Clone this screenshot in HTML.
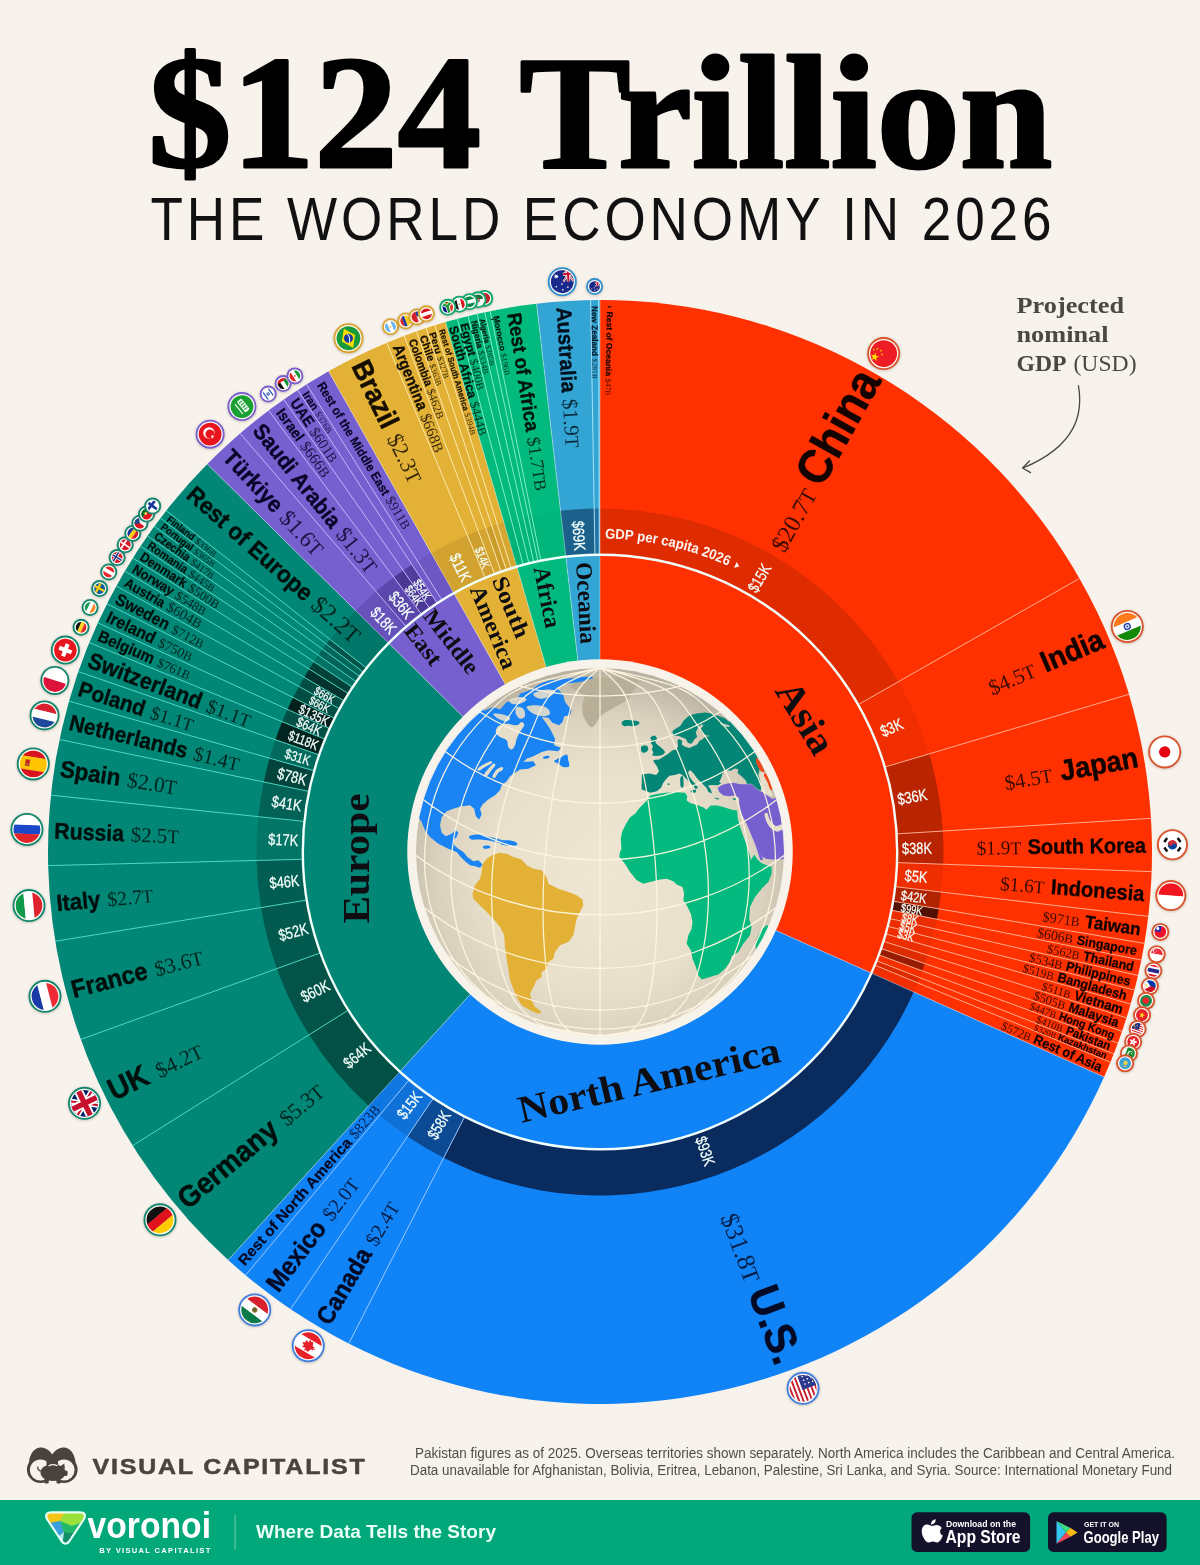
<!DOCTYPE html>
<html lang="en">
<head>
<meta charset="utf-8">
<title>$124 Trillion: The World Economy in 2026</title>
<style>
html,body{margin:0;padding:0;background:#f7f2eb;}
body{width:1200px;height:1565px;overflow:hidden;}
svg{display:block;}
text{white-space:pre;}
</style>
</head>
<body>
<svg width="1200" height="1565" viewBox="0 0 1200 1565">
<rect width="1200" height="1565" fill="#f7f2eb"/>
<text x="600.3" y="166.5" text-anchor="middle" font-family='"Liberation Serif", "Times New Roman", serif' font-weight="700" font-size="160" textLength="904" lengthAdjust="spacingAndGlyphs" fill="#000" stroke="#000" stroke-width="3" stroke-linejoin="round">$124 Trillion</text>
<text x="603" y="240.2" text-anchor="middle" font-family='"Liberation Sans", Arial, Helvetica, sans-serif' font-size="61" letter-spacing="4.5" textLength="905" lengthAdjust="spacingAndGlyphs" fill="#111">THE WORLD ECONOMY IN 2026</text>
<text font-family='"Liberation Serif", "Times New Roman", serif' font-size="24" fill="#4b4741"><tspan x="1016.5" y="313" font-weight="700" textLength="107.5" lengthAdjust="spacingAndGlyphs">Projected</tspan><tspan x="1016.5" y="342" font-weight="700" textLength="92" lengthAdjust="spacingAndGlyphs">nominal</tspan><tspan x="1016.5" y="370.5" font-weight="700" textLength="50" lengthAdjust="spacingAndGlyphs">GDP</tspan><tspan x="1073.5" y="370.5" textLength="63" lengthAdjust="spacingAndGlyphs">(USD)</tspan></text>
<path d="M1078.4,385.6 C1083,412 1078,445 1023,468" fill="none" stroke="#4b4741" stroke-width="1.3" stroke-linecap="round"/>
<path d="M1029.5,461 L1022.6,468 L1030.5,472.6" fill="none" stroke="#4b4741" stroke-width="1.3" stroke-linecap="round" stroke-linejoin="round"/>
<path d="M600,852L600,300A552,552 0 0 1 1104.08,1076.96Z" fill="#ff3100"/>
<path d="M600,852L1104.08,1076.96A552,552 0 0 1 228.14,1259.95Z" fill="#1083f7"/>
<path d="M600,852L228.14,1259.95A552,552 0 0 1 207.3,464.07Z" fill="#028676"/>
<path d="M600,852L207.3,464.07A552,552 0 0 1 328.6,371.33Z" fill="#7660d0"/>
<path d="M600,852L328.6,371.33A552,552 0 0 1 445.53,322.05Z" fill="#e2b135"/>
<path d="M600,852L445.53,322.05A552,552 0 0 1 536.55,303.66Z" fill="#02ba7e"/>
<path d="M600,852L536.55,303.66A552,552 0 0 1 600,300Z" fill="#33a5d5"/>
<path d="M600,508.5A343.5,343.5 0 0 1 898.35,681.77L858.14,704.71A297.2,297.2 0 0 0 600,554.8Z" fill="#de2b00"/>
<path d="M898.35,681.77A343.5,343.5 0 0 1 929.18,753.86L884.81,767.09A297.2,297.2 0 0 0 858.14,704.71Z" fill="#f12e00"/>
<path d="M929.18,753.86A343.5,343.5 0 0 1 942.86,831.06L896.65,833.88A297.2,297.2 0 0 0 884.81,767.09Z" fill="#bb2401"/>
<path d="M942.86,831.06A343.5,343.5 0 0 1 943.28,864.22L897.01,862.58A297.2,297.2 0 0 0 896.65,833.88Z" fill="#b82301"/>
<path d="M943.28,864.22A343.5,343.5 0 0 1 941.15,892.07L895.17,886.67A297.2,297.2 0 0 0 897.01,862.58Z" fill="#ee2e00"/>
<path d="M941.15,892.07A343.5,343.5 0 0 1 938.76,908.86L893.1,901.19A297.2,297.2 0 0 0 895.17,886.67Z" fill="#b12201"/>
<path d="M938.76,908.86A343.5,343.5 0 0 1 936.85,919.26L891.45,910.2A297.2,297.2 0 0 0 893.1,901.19Z" fill="#531002"/>
<path d="M936.85,919.26A343.5,343.5 0 0 1 934.79,928.86L889.66,918.5A297.2,297.2 0 0 0 891.45,910.2Z" fill="#e92d00"/>
<path d="M934.79,928.86A343.5,343.5 0 0 1 932.58,937.92L887.75,926.34A297.2,297.2 0 0 0 889.66,918.5Z" fill="#ee2e00"/>
<path d="M932.58,937.92A343.5,343.5 0 0 1 930.2,946.66L885.69,933.9A297.2,297.2 0 0 0 887.75,926.34Z" fill="#f12e00"/>
<path d="M930.2,946.66A343.5,343.5 0 0 1 927.63,955.21L883.47,941.3A297.2,297.2 0 0 0 885.69,933.9Z" fill="#ee2e00"/>
<path d="M927.63,955.21A343.5,343.5 0 0 1 924.87,963.58L881.08,948.54A297.2,297.2 0 0 0 883.47,941.3Z" fill="#df2b00"/>
<path d="M924.87,963.58A343.5,343.5 0 0 1 922.25,970.93L878.82,954.9A297.2,297.2 0 0 0 881.08,948.54Z" fill="#961d01"/>
<path d="M922.25,970.93A343.5,343.5 0 0 1 919.7,977.62L876.61,960.69A297.2,297.2 0 0 0 878.82,954.9Z" fill="#f32f00"/>
<path d="M919.7,977.62A343.5,343.5 0 0 1 917.62,982.81L874.81,965.18A297.2,297.2 0 0 0 876.61,960.69Z" fill="#dc2a00"/>
<path d="M917.62,982.81A343.5,343.5 0 0 1 913.68,991.99L871.4,973.12A297.2,297.2 0 0 0 874.81,965.18Z" fill="#f02e00"/>
<path d="M913.68,991.99A343.5,343.5 0 0 1 443.67,1157.87L464.74,1116.64A297.2,297.2 0 0 0 871.4,973.12Z" fill="#0a2b5e"/>
<path d="M443.67,1157.87A343.5,343.5 0 0 1 407.46,1136.47L433.41,1098.12A297.2,297.2 0 0 0 464.74,1116.64Z" fill="#0c4a94"/>
<path d="M407.46,1136.47A343.5,343.5 0 0 1 379.47,1115.36L409.19,1079.86A297.2,297.2 0 0 0 433.41,1098.12Z" fill="#0f71d7"/>
<path d="M379.47,1115.36A343.5,343.5 0 0 1 368.6,1105.86L399.79,1071.64A297.2,297.2 0 0 0 409.19,1079.86Z" fill="#0f77e2"/>
<path d="M368.6,1105.86A343.5,343.5 0 0 1 309.14,1034.73L348.34,1010.1A297.2,297.2 0 0 0 399.79,1071.64Z" fill="#035046"/>
<path d="M309.14,1034.73A343.5,343.5 0 0 1 276.9,968.62L320.45,952.9A297.2,297.2 0 0 0 348.34,1010.1Z" fill="#035348"/>
<path d="M276.9,968.62A343.5,343.5 0 0 1 261.03,907.58L306.72,900.09A297.2,297.2 0 0 0 320.45,952.9Z" fill="#02594e"/>
<path d="M261.03,907.58A343.5,343.5 0 0 1 256.6,860.45L302.89,859.31A297.2,297.2 0 0 0 306.72,900.09Z" fill="#025e52"/>
<path d="M256.6,860.45A343.5,343.5 0 0 1 258.32,816.65L304.38,821.41A297.2,297.2 0 0 0 302.89,859.31Z" fill="#027566"/>
<path d="M258.32,816.65A343.5,343.5 0 0 1 263.71,781.99L309.04,791.42A297.2,297.2 0 0 0 304.38,821.41Z" fill="#026256"/>
<path d="M263.71,781.99A343.5,343.5 0 0 1 269.57,758.14L314.11,770.79A297.2,297.2 0 0 0 309.04,791.42Z" fill="#03453c"/>
<path d="M269.57,758.14A343.5,343.5 0 0 1 275.37,739.73L319.12,754.86A297.2,297.2 0 0 0 314.11,770.79Z" fill="#026a5d"/>
<path d="M275.37,739.73A343.5,343.5 0 0 1 282.18,721.68L325.02,739.24A297.2,297.2 0 0 0 319.12,754.86Z" fill="#032520"/>
<path d="M282.18,721.68A343.5,343.5 0 0 1 287.49,709.42L329.61,728.64A297.2,297.2 0 0 0 325.02,739.24Z" fill="#035046"/>
<path d="M287.49,709.42A343.5,343.5 0 0 1 293.18,697.56L334.53,718.38A297.2,297.2 0 0 0 329.61,728.64Z" fill="#03201b"/>
<path d="M293.18,697.56A343.5,343.5 0 0 1 299,686.51L339.57,708.81A297.2,297.2 0 0 0 334.53,718.38Z" fill="#034e44"/>
<path d="M299,686.51A343.5,343.5 0 0 1 304.24,677.3L344.11,700.85A297.2,297.2 0 0 0 339.57,708.81Z" fill="#034e44"/>
<path d="M304.24,677.3A343.5,343.5 0 0 1 309.25,669.09L348.44,693.74A297.2,297.2 0 0 0 344.11,700.85Z" fill="#03332c"/>
<path d="M309.25,669.09A343.5,343.5 0 0 1 314.01,661.72L352.56,687.37A297.2,297.2 0 0 0 348.44,693.74Z" fill="#034239"/>
<path d="M314.01,661.72A343.5,343.5 0 0 1 318.41,655.27L356.37,681.79A297.2,297.2 0 0 0 352.56,687.37Z" fill="#027062"/>
<path d="M318.41,655.27A343.5,343.5 0 0 1 322.67,649.32L360.05,676.64A297.2,297.2 0 0 0 356.37,681.79Z" fill="#026458"/>
<path d="M322.67,649.32A343.5,343.5 0 0 1 326.49,644.19L363.36,672.2A297.2,297.2 0 0 0 360.05,676.64Z" fill="#02675b"/>
<path d="M326.49,644.19A343.5,343.5 0 0 1 330.1,639.52L366.48,668.16A297.2,297.2 0 0 0 363.36,672.2Z" fill="#035348"/>
<path d="M330.1,639.52A343.5,343.5 0 0 1 355.63,610.6L388.57,643.14A297.2,297.2 0 0 0 366.48,668.16Z" fill="#027769"/>
<path d="M355.63,610.6A343.5,343.5 0 0 1 376.07,591.52L406.25,626.63A297.2,297.2 0 0 0 388.57,643.14Z" fill="#6752bc"/>
<path d="M376.07,591.52A343.5,343.5 0 0 1 393.78,577.29L421.57,614.32A297.2,297.2 0 0 0 406.25,626.63Z" fill="#5c48ad"/>
<path d="M393.78,577.29A343.5,343.5 0 0 1 403.2,570.46L429.73,608.41A297.2,297.2 0 0 0 421.57,614.32Z" fill="#4a3894"/>
<path d="M403.2,570.46A343.5,343.5 0 0 1 411.9,564.58L437.26,603.32A297.2,297.2 0 0 0 429.73,608.41Z" fill="#513d9d"/>
<path d="M411.9,564.58A343.5,343.5 0 0 1 417.43,561.03L442.04,600.25A297.2,297.2 0 0 0 437.26,603.32Z" fill="#705bc8"/>
<path d="M417.43,561.03A343.5,343.5 0 0 1 431.11,552.89L453.88,593.2A297.2,297.2 0 0 0 442.04,600.25Z" fill="#6c57c3"/>
<path d="M431.11,552.89A343.5,343.5 0 0 1 467.31,535.16L485.19,577.87A297.2,297.2 0 0 0 453.88,593.2Z" fill="#d1a22f"/>
<path d="M467.31,535.16A343.5,343.5 0 0 1 478.18,530.83L494.6,574.12A297.2,297.2 0 0 0 485.19,577.87Z" fill="#ce9f2e"/>
<path d="M478.18,530.83A343.5,343.5 0 0 1 485.79,528.04L501.18,571.71A297.2,297.2 0 0 0 494.6,574.12Z" fill="#d3a430"/>
<path d="M485.79,528.04A343.5,343.5 0 0 1 491.81,525.98L506.39,569.93A297.2,297.2 0 0 0 501.18,571.71Z" fill="#ca9c2c"/>
<path d="M491.81,525.98A343.5,343.5 0 0 1 497.27,524.22L511.11,568.4A297.2,297.2 0 0 0 506.39,569.93Z" fill="#d3a430"/>
<path d="M497.27,524.22A343.5,343.5 0 0 1 503.88,522.22L516.83,566.67A297.2,297.2 0 0 0 511.11,568.4Z" fill="#d5a630"/>
<path d="M503.88,522.22A343.5,343.5 0 0 1 511.24,520.16L523.21,564.89A297.2,297.2 0 0 0 516.83,566.67Z" fill="#02b278"/>
<path d="M511.24,520.16A343.5,343.5 0 0 1 517.92,518.45L528.98,563.41A297.2,297.2 0 0 0 523.21,564.89Z" fill="#02b47a"/>
<path d="M517.92,518.45A343.5,343.5 0 0 1 523.51,517.12L533.82,562.26A297.2,297.2 0 0 0 528.98,563.41Z" fill="#02b67b"/>
<path d="M523.51,517.12A343.5,343.5 0 0 1 528.31,516.06L537.97,561.35A297.2,297.2 0 0 0 533.82,562.26Z" fill="#02b279"/>
<path d="M528.31,516.06A343.5,343.5 0 0 1 531.61,515.38L540.83,560.75A297.2,297.2 0 0 0 537.97,561.35Z" fill="#02b379"/>
<path d="M531.61,515.38A343.5,343.5 0 0 1 560.52,510.78L565.84,556.77A297.2,297.2 0 0 0 540.83,560.75Z" fill="#02b57b"/>
<path d="M560.52,510.78A343.5,343.5 0 0 1 594.18,508.55L594.96,554.84A297.2,297.2 0 0 0 565.84,556.77Z" fill="#1c618c"/>
<path d="M594.18,508.55A343.5,343.5 0 0 1 599.17,508.5L599.28,554.8A297.2,297.2 0 0 0 594.96,554.84Z" fill="#22729f"/>
<path d="M599.17,508.5A343.5,343.5 0 0 1 600,508.5L600,554.8A297.2,297.2 0 0 0 599.28,554.8Z" fill="#309ccb"/>
<path d="M858.14,704.71L1079.44,578.44M884.81,767.09L1128.99,694.28M896.65,833.88L1150.97,818.35M897.01,862.58L1151.65,871.64M895.17,886.67L1148.23,916.4M893.1,901.19L1144.39,943.37M891.45,910.2L1141.31,960.09M889.66,918.5L1138,975.51M887.75,926.34L1134.45,990.07M885.69,933.9L1130.63,1004.12M883.47,941.3L1126.5,1017.85M881.08,948.54L1122.06,1031.31M878.82,954.9L1117.86,1043.13M876.61,960.69L1113.76,1053.88M874.81,965.18L1110.41,1062.21" stroke="#ffb9a0" stroke-width="1" fill="none" opacity="0.9"/>
<path d="M464.74,1116.64L348.78,1343.52M433.41,1098.12L290.59,1309.13M409.19,1079.86L245.61,1275.21" stroke="#a9d0ff" stroke-width="1" fill="none" opacity="0.9"/>
<path d="M348.34,1010.1L132.59,1145.65M320.45,952.9L80.79,1039.41M306.72,900.09L55.27,941.31M302.89,859.31L48.17,865.58M304.38,821.41L50.93,795.19M309.04,791.42L59.59,739.49M314.11,770.79L69.01,701.17M319.12,754.86L78.32,671.58M325.02,739.24L89.27,642.57M329.61,728.64L97.8,622.88M334.53,718.38L106.94,603.82M339.57,708.81L116.29,586.05M344.11,700.85L124.72,571.26M348.44,693.74L132.77,558.07M352.56,687.37L140.43,546.23M356.37,681.79L147.49,535.86M360.05,676.64L154.33,526.3M363.36,672.2L160.48,518.05M366.48,668.16L166.28,510.55" stroke="#58e0cd" stroke-width="1" fill="none" opacity="0.9"/>
<path d="M406.25,626.63L240.15,433.42M421.57,614.32L268.6,410.55M429.73,608.41L283.75,399.57M437.26,603.32L297.73,390.12M442.04,600.25L306.62,384.42" stroke="#cbbcff" stroke-width="1" fill="none" opacity="0.9"/>
<path d="M485.19,577.87L386.76,342.85M494.6,574.12L404.24,335.88M501.18,571.71L416.47,331.4M506.39,569.93L426.14,328.09M511.11,568.4L434.91,325.27" stroke="#fff0b8" stroke-width="1" fill="none" opacity="0.9"/>
<path d="M523.21,564.89L457.37,318.75M528.98,563.41L468.09,315.99M533.82,562.26L477.09,313.86M537.97,561.35L484.79,312.16M540.83,560.75L490.1,311.05" stroke="#8df5c8" stroke-width="1" fill="none" opacity="0.9"/>
<path d="M594.96,554.84L590.64,300.08M599.28,554.8L598.66,300" stroke="#b4e4fa" stroke-width="1" fill="none" opacity="0.9"/>
<path d="M600,659.25L600,300M776.02,930.55L1104.08,1076.96M470.15,994.45L228.14,1259.95M462.88,716.54L207.3,464.07M505.23,684.16L328.6,371.33M546.06,666.95L445.53,322.05M577.85,660.53L536.55,303.66" stroke="#ffffff" stroke-width="0.8" fill="none" opacity="0.45"/>
<circle cx="600" cy="852" r="297.2" fill="none" stroke="#f2fffb" stroke-width="2.4"/>
<g transform="translate(600,852) rotate(-60.85)" fill="#120300"><text x="425.3" y="16.82" font-family='"Liberation Sans", Arial, Helvetica, sans-serif' font-weight="700" font-size="47.38" textLength="123.7" lengthAdjust="spacingAndGlyphs" stroke="#120300" stroke-width="0.57">China</text><text x="350.3" y="15.9" font-family='"Liberation Serif", "Times New Roman", serif' font-size="24.5" textLength="68" lengthAdjust="spacingAndGlyphs" opacity="0.82">$20.7<tspan font-size="22.54">T</tspan></text></g>
<text transform="translate(759.2,577.87) rotate(-59.85)" x="-14.94" y="5.83" font-family='"Liberation Sans", Arial, Helvetica, sans-serif' font-size="16.2" fill="#f4fffb" stroke="#f4fffb" stroke-width="0.25" textLength="29.89" lengthAdjust="spacingAndGlyphs">$15K</text>
<g transform="translate(600,852) rotate(-23.16)" fill="#120300"><text x="480.4" y="10.62" font-family='"Liberation Sans", Arial, Helvetica, sans-serif' font-weight="700" font-size="29.91" textLength="65.6" lengthAdjust="spacingAndGlyphs" stroke="#120300" stroke-width="0.54">India</text><text x="422.23" y="10.28" font-family='"Liberation Serif", "Times New Roman", serif' font-size="21.49" textLength="49.2" lengthAdjust="spacingAndGlyphs" opacity="0.82">$4.5<tspan font-size="19.77">T</tspan></text></g>
<text transform="translate(891.46,727.35) rotate(-23.16)" x="-11.39" y="5.83" font-family='"Liberation Sans", Arial, Helvetica, sans-serif' font-size="16.2" fill="#f4fffb" stroke="#f4fffb" stroke-width="0.25" textLength="22.77" lengthAdjust="spacingAndGlyphs">$3K</text>
<g transform="translate(600,852) rotate(-10.05)" fill="#120300"><text x="467.2" y="10.3" font-family='"Liberation Sans", Arial, Helvetica, sans-serif' font-weight="700" font-size="29.01" textLength="78.8" lengthAdjust="spacingAndGlyphs" stroke="#120300" stroke-width="0.52">Japan</text><text x="410.5" y="9.98" font-family='"Liberation Serif", "Times New Roman", serif' font-size="20.96" textLength="48" lengthAdjust="spacingAndGlyphs" opacity="0.82">$4.5<tspan font-size="19.28">T</tspan></text></g>
<text transform="translate(912.14,796.69) rotate(-10.05)" x="-14.94" y="5.83" font-family='"Liberation Sans", Arial, Helvetica, sans-serif' font-size="16.2" fill="#f4fffb" stroke="#f4fffb" stroke-width="0.25" textLength="29.89" lengthAdjust="spacingAndGlyphs">$36K</text>
<g transform="translate(600,852) rotate(-0.73)" fill="#120300"><text x="427.7" y="7.52" font-family='"Liberation Sans", Arial, Helvetica, sans-serif' font-weight="700" font-size="21.17" textLength="118.3" lengthAdjust="spacingAndGlyphs" stroke="#120300" stroke-width="0.38">South Korea</text><text x="376.65" y="7.45" font-family='"Liberation Serif", "Times New Roman", serif' font-size="19.52" textLength="44.7" lengthAdjust="spacingAndGlyphs" opacity="0.82">$1.9<tspan font-size="17.96">T</tspan></text></g>
<text transform="translate(916.97,847.97) rotate(-0.73)" x="-14.94" y="5.83" font-family='"Liberation Sans", Arial, Helvetica, sans-serif' font-size="16.2" fill="#f4fffb" stroke="#f4fffb" stroke-width="0.25" textLength="29.89" lengthAdjust="spacingAndGlyphs">$38K</text>
<g transform="translate(600,852) rotate(4.37)" fill="#120300"><text x="452.4" y="7.57" font-family='"Liberation Sans", Arial, Helvetica, sans-serif' font-weight="700" font-size="21.34" textLength="93.6" lengthAdjust="spacingAndGlyphs" stroke="#120300" stroke-width="0.38">Indonesia</text><text x="401.5" y="7.5" font-family='"Liberation Serif", "Times New Roman", serif' font-size="19.43" textLength="44.5" lengthAdjust="spacingAndGlyphs" opacity="0.82">$1.6<tspan font-size="17.88">T</tspan></text></g>
<text transform="translate(916.08,876.15) rotate(4.37)" x="-11.39" y="5.83" font-family='"Liberation Sans", Arial, Helvetica, sans-serif' font-size="16.2" fill="#f4fffb" stroke="#f4fffb" stroke-width="0.25" textLength="22.77" lengthAdjust="spacingAndGlyphs">$5K</text>
<g transform="translate(600,852) rotate(8.11)" fill="#120300"><text x="490" y="6.38" font-family='"Liberation Sans", Arial, Helvetica, sans-serif' font-weight="700" font-size="17.97" textLength="56" lengthAdjust="spacingAndGlyphs" stroke="#120300" stroke-width="0.32">Taiwan</text><text x="447.41" y="6.24" font-family='"Liberation Serif", "Times New Roman", serif' font-size="14.38" textLength="37.2" lengthAdjust="spacingAndGlyphs" opacity="0.82">$971<tspan font-size="13.23">B</tspan></text></g>
<text transform="translate(913.83,896.74) rotate(8.11)" x="-12.91" y="5.04" font-family='"Liberation Sans", Arial, Helvetica, sans-serif' font-size="14" fill="#f4fffb" stroke="#f4fffb" stroke-width="0.25" textLength="25.83" lengthAdjust="spacingAndGlyphs">$42K</text>
<g transform="translate(600,852) rotate(10.41)" fill="#120300"><text x="485" y="4.71" font-family='"Liberation Sans", Arial, Helvetica, sans-serif' font-weight="700" font-size="13.27" textLength="61" lengthAdjust="spacingAndGlyphs" stroke="#120300" stroke-width="0.24">Singapore</text><text x="444.62" y="4.71" font-family='"Liberation Serif", "Times New Roman", serif' font-size="14.07" textLength="36.4" lengthAdjust="spacingAndGlyphs" opacity="0.82">$606<tspan font-size="12.94">B</tspan></text></g>
<text transform="translate(911.78,909.28) rotate(10.41)" x="-10.88" y="4.25" font-family='"Liberation Sans", Arial, Helvetica, sans-serif' font-size="11.8" fill="#f4fffb" stroke="#f4fffb" stroke-width="0.25" textLength="21.77" lengthAdjust="spacingAndGlyphs">$99K</text>
<g transform="translate(600,852) rotate(12.11)" fill="#120300"><text x="494.5" y="4.73" font-family='"Liberation Sans", Arial, Helvetica, sans-serif' font-weight="700" font-size="13.33" textLength="51.5" lengthAdjust="spacingAndGlyphs" stroke="#120300" stroke-width="0.24">Thailand</text><text x="457.5" y="4.71" font-family='"Liberation Serif", "Times New Roman", serif' font-size="12.76" textLength="33" lengthAdjust="spacingAndGlyphs" opacity="0.82">$562<tspan font-size="11.74">B</tspan></text></g>
<text transform="translate(909.94,918.51) rotate(12.11)" x="-8.29" y="4.25" font-family='"Liberation Sans", Arial, Helvetica, sans-serif' font-size="11.8" fill="#f4fffb" stroke="#f4fffb" stroke-width="0.25" textLength="16.59" lengthAdjust="spacingAndGlyphs">$8K</text>
<g transform="translate(600,852) rotate(13.71)" fill="#120300"><text x="480" y="4.67" font-family='"Liberation Sans", Arial, Helvetica, sans-serif' font-weight="700" font-size="13.16" textLength="66" lengthAdjust="spacingAndGlyphs" stroke="#120300" stroke-width="0.24">Philippines</text><text x="442.05" y="4.67" font-family='"Liberation Serif", "Times New Roman", serif' font-size="13.14" textLength="34" lengthAdjust="spacingAndGlyphs" opacity="0.82">$534<tspan font-size="12.09">B</tspan></text></g>
<text transform="translate(907.97,927.12) rotate(13.71)" x="-8.29" y="4.25" font-family='"Liberation Sans", Arial, Helvetica, sans-serif' font-size="11.8" fill="#f4fffb" stroke="#f4fffb" stroke-width="0.25" textLength="16.59" lengthAdjust="spacingAndGlyphs">$5K</text>
<g transform="translate(600,852) rotate(15.24)" fill="#120300"><text x="474.6" y="4.76" font-family='"Liberation Sans", Arial, Helvetica, sans-serif' font-weight="700" font-size="13.4" textLength="71.4" lengthAdjust="spacingAndGlyphs" stroke="#120300" stroke-width="0.24">Bangladesh</text><text x="438.58" y="4.72" font-family='"Liberation Serif", "Times New Roman", serif' font-size="12.37" textLength="32" lengthAdjust="spacingAndGlyphs" opacity="0.82">$519<tspan font-size="11.38">B</tspan></text></g>
<text transform="translate(905.85,935.33) rotate(15.24)" x="-8.29" y="4.25" font-family='"Liberation Sans", Arial, Helvetica, sans-serif' font-size="11.8" fill="#f4fffb" stroke="#f4fffb" stroke-width="0.25" textLength="16.59" lengthAdjust="spacingAndGlyphs">$3K</text>
<g transform="translate(600,852) rotate(16.74)" fill="#120300"><text x="495.7" y="4.91" font-family='"Liberation Sans", Arial, Helvetica, sans-serif' font-weight="700" font-size="13.82" textLength="50.3" lengthAdjust="spacingAndGlyphs" stroke="#120300" stroke-width="0.25">Vietnam</text><text x="462.05" y="4.82" font-family='"Liberation Serif", "Times New Roman", serif' font-size="11.56" textLength="29.5" lengthAdjust="spacingAndGlyphs" opacity="0.82">$511<tspan font-size="10.64">B</tspan></text></g>
<g transform="translate(600,852) rotate(18.22)" fill="#120300"><text x="494" y="4.71" font-family='"Liberation Sans", Arial, Helvetica, sans-serif' font-weight="700" font-size="13.27" textLength="52" lengthAdjust="spacingAndGlyphs" stroke="#120300" stroke-width="0.24">Malaysia</text><text x="457.02" y="4.69" font-family='"Liberation Serif", "Times New Roman", serif' font-size="12.76" textLength="33" lengthAdjust="spacingAndGlyphs" opacity="0.82">$505<tspan font-size="11.74">B</tspan></text></g>
<g transform="translate(600,852) rotate(19.61)" fill="#120300"><text x="487.8" y="4.08" font-family='"Liberation Sans", Arial, Helvetica, sans-serif' font-weight="700" font-size="11.49" textLength="58.2" lengthAdjust="spacingAndGlyphs" stroke="#120300" stroke-width="0.21">Hong Kong</text><text x="456.75" y="4.05" font-family='"Liberation Serif", "Times New Roman", serif' font-size="10.67" textLength="27.6" lengthAdjust="spacingAndGlyphs" opacity="0.82">$447<tspan font-size="9.82">B</tspan></text></g>
<g transform="translate(600,852) rotate(20.85)" fill="#120300"><text x="499.1" y="4.29" font-family='"Liberation Sans", Arial, Helvetica, sans-serif' font-weight="700" font-size="12.09" textLength="46.9" lengthAdjust="spacingAndGlyphs" stroke="#120300" stroke-width="0.22">Pakistan</text><text x="467.27" y="4.24" font-family='"Liberation Serif", "Times New Roman", serif' font-size="10.9" textLength="28.2" lengthAdjust="spacingAndGlyphs" opacity="0.82">$410<tspan font-size="10.03">B</tspan></text></g>
<g transform="translate(600,852) rotate(21.92)" fill="#120300"><text x="494.3" y="3.35" font-family='"Liberation Sans", Arial, Helvetica, sans-serif' font-weight="700" font-size="9.43" textLength="51.7" lengthAdjust="spacingAndGlyphs" stroke="#120300" stroke-width="0.17">Kazakhstan</text><text x="468.47" y="3.33" font-family='"Liberation Serif", "Times New Roman", serif' font-size="8.89" textLength="23" lengthAdjust="spacingAndGlyphs" opacity="0.82">$320<tspan font-size="8.18">B</tspan></text></g>
<g transform="translate(600,852) rotate(23.22)" fill="#120300"><text x="472.8" y="4.81" font-family='"Liberation Sans", Arial, Helvetica, sans-serif' font-weight="700" font-size="13.56" textLength="73.2" lengthAdjust="spacingAndGlyphs" stroke="#120300" stroke-width="0.24">Rest of Asia</text><text x="437.53" y="4.75" font-family='"Liberation Serif", "Times New Roman", serif' font-size="12.06" textLength="31.2" lengthAdjust="spacingAndGlyphs" opacity="0.82">$572<tspan font-size="11.1">B</tspan></text></g>
<g transform="translate(600,852) rotate(69.56)" fill="#050a24"><text x="464" y="15.53" font-family='"Liberation Sans", Arial, Helvetica, sans-serif' font-weight="700" font-size="43.76" textLength="80" lengthAdjust="spacingAndGlyphs" stroke="#050a24" stroke-width="0.53">U.S.</text><text x="384.4" y="14.82" font-family='"Liberation Serif", "Times New Roman", serif' font-size="25.8" textLength="71.6" lengthAdjust="spacingAndGlyphs" opacity="0.82">$31.8<tspan font-size="23.74">T</tspan></text></g>
<text transform="translate(705.5,1150.93) rotate(70.56)" x="-14.94" y="5.83" font-family='"Liberation Sans", Arial, Helvetica, sans-serif' font-size="16.2" fill="#f4fffb" stroke="#f4fffb" stroke-width="0.25" textLength="29.89" lengthAdjust="spacingAndGlyphs">$93K</text>
<g transform="translate(600,852) rotate(-59.42)" fill="#050a24"><text x="-546" y="8.81" font-family='"Liberation Sans", Arial, Helvetica, sans-serif' font-weight="700" font-size="24.83" textLength="84.3" lengthAdjust="spacingAndGlyphs" stroke="#050a24" stroke-width="0.45">Canada</text><text x="-454.25" y="8.64" font-family='"Liberation Serif", "Times New Roman", serif' font-size="20.52" textLength="47" lengthAdjust="spacingAndGlyphs" opacity="0.82">$2.4<tspan font-size="18.88">T</tspan></text></g>
<text transform="translate(438.72,1124.91) rotate(-59.42)" x="-14.94" y="5.83" font-family='"Liberation Sans", Arial, Helvetica, sans-serif' font-size="16.2" fill="#f4fffb" stroke="#f4fffb" stroke-width="0.25" textLength="29.89" lengthAdjust="spacingAndGlyphs">$58K</text>
<g transform="translate(600,852) rotate(-52.98)" fill="#050a24"><text x="-546" y="9.07" font-family='"Liberation Sans", Arial, Helvetica, sans-serif' font-weight="700" font-size="25.55" textLength="81.4" lengthAdjust="spacingAndGlyphs" stroke="#050a24" stroke-width="0.46">Mexico</text><text x="-456.94" y="8.87" font-family='"Liberation Serif", "Times New Roman", serif' font-size="20.52" textLength="47" lengthAdjust="spacingAndGlyphs" opacity="0.82">$2.0<tspan font-size="18.88">T</tspan></text></g>
<text transform="translate(409.15,1105.11) rotate(-52.98)" x="-14.94" y="5.83" font-family='"Liberation Sans", Arial, Helvetica, sans-serif' font-size="16.2" fill="#f4fffb" stroke="#f4fffb" stroke-width="0.25" textLength="29.89" lengthAdjust="spacingAndGlyphs">$15K</text>
<g transform="translate(600,852) rotate(-48.85)" fill="#050a24"><text x="-546" y="5.25" font-family='"Liberation Sans", Arial, Helvetica, sans-serif' font-weight="700" font-size="14.8" textLength="164" lengthAdjust="spacingAndGlyphs" stroke="#050a24" stroke-width="0.27">Rest of North America</text><text x="-377.56" y="5.25" font-family='"Liberation Serif", "Times New Roman", serif' font-size="15.04" textLength="38.9" lengthAdjust="spacingAndGlyphs" opacity="0.82">$823<tspan font-size="13.83">B</tspan></text></g>
<g transform="translate(600,852) rotate(-39.89)" fill="#02100d"><text x="-546" y="10.5" font-family='"Liberation Sans", Arial, Helvetica, sans-serif' font-weight="700" font-size="29.57" textLength="120.5" lengthAdjust="spacingAndGlyphs" stroke="#02100d" stroke-width="0.53">Germany</text><text x="-416.63" y="10.21" font-family='"Liberation Serif", "Times New Roman", serif' font-size="22.27" textLength="51" lengthAdjust="spacingAndGlyphs" opacity="0.82">$5.3<tspan font-size="20.49">T</tspan></text></g>
<text transform="translate(356.79,1055.32) rotate(-39.89)" x="-14.94" y="5.83" font-family='"Liberation Sans", Arial, Helvetica, sans-serif' font-size="16.2" fill="#f4fffb" stroke="#f4fffb" stroke-width="0.25" textLength="29.89" lengthAdjust="spacingAndGlyphs">$64K</text>
<g transform="translate(600,852) rotate(-25.99)" fill="#02100d"><text x="-546" y="10.93" font-family='"Liberation Sans", Arial, Helvetica, sans-serif' font-weight="700" font-size="30.79" textLength="41.8" lengthAdjust="spacingAndGlyphs" stroke="#02100d" stroke-width="0.37">UK</text><text x="-494.96" y="10.57" font-family='"Liberation Serif", "Times New Roman", serif' font-size="21.83" textLength="50" lengthAdjust="spacingAndGlyphs" opacity="0.82">$4.2<tspan font-size="20.09">T</tspan></text></g>
<text transform="translate(315.07,990.93) rotate(-25.99)" x="-14.94" y="5.83" font-family='"Liberation Sans", Arial, Helvetica, sans-serif' font-size="16.2" fill="#f4fffb" stroke="#f4fffb" stroke-width="0.25" textLength="29.89" lengthAdjust="spacingAndGlyphs">$60K</text>
<g transform="translate(600,852) rotate(-14.58)" fill="#02100d"><text x="-546" y="8.96" font-family='"Liberation Sans", Arial, Helvetica, sans-serif' font-weight="700" font-size="25.24" textLength="77.8" lengthAdjust="spacingAndGlyphs" stroke="#02100d" stroke-width="0.45">France</text><text x="-460.63" y="8.82" font-family='"Liberation Serif", "Times New Roman", serif' font-size="21.66" textLength="49.6" lengthAdjust="spacingAndGlyphs" opacity="0.82">$3.6<tspan font-size="19.93">T</tspan></text></g>
<text transform="translate(293.21,931.79) rotate(-14.58)" x="-14.94" y="5.83" font-family='"Liberation Sans", Arial, Helvetica, sans-serif' font-size="16.2" fill="#f4fffb" stroke="#f4fffb" stroke-width="0.25" textLength="29.89" lengthAdjust="spacingAndGlyphs">$52K</text>
<g transform="translate(600,852) rotate(-5.36)" fill="#02100d"><text x="-546" y="8.31" font-family='"Liberation Sans", Arial, Helvetica, sans-serif' font-weight="700" font-size="23.4" textLength="44" lengthAdjust="spacingAndGlyphs" stroke="#02100d" stroke-width="0.42">Italy</text><text x="-494.98" y="8.17" font-family='"Liberation Serif", "Times New Roman", serif' font-size="20.09" textLength="46" lengthAdjust="spacingAndGlyphs" opacity="0.82">$2.7<tspan font-size="18.48">T</tspan></text></g>
<text transform="translate(284.39,881.61) rotate(-5.36)" x="-14.94" y="5.83" font-family='"Liberation Sans", Arial, Helvetica, sans-serif' font-size="16.2" fill="#f4fffb" stroke="#f4fffb" stroke-width="0.25" textLength="29.89" lengthAdjust="spacingAndGlyphs">$46K</text>
<g transform="translate(600,852) rotate(2.25)" fill="#02100d"><text x="-546" y="8.03" font-family='"Liberation Sans", Arial, Helvetica, sans-serif' font-weight="700" font-size="22.61" textLength="69.7" lengthAdjust="spacingAndGlyphs" stroke="#02100d" stroke-width="0.41">Russia</text><text x="-469.52" y="7.97" font-family='"Liberation Serif", "Times New Roman", serif' font-size="21.09" textLength="48.3" lengthAdjust="spacingAndGlyphs" opacity="0.82">$2.5<tspan font-size="19.4">T</tspan></text></g>
<text transform="translate(283.24,839.56) rotate(2.25)" x="-14.94" y="5.83" font-family='"Liberation Sans", Arial, Helvetica, sans-serif' font-size="16.2" fill="#f4fffb" stroke="#f4fffb" stroke-width="0.25" textLength="29.89" lengthAdjust="spacingAndGlyphs">$17K</text>
<g transform="translate(600,852) rotate(8.83)" fill="#02100d"><text x="-546" y="8.42" font-family='"Liberation Sans", Arial, Helvetica, sans-serif' font-weight="700" font-size="23.72" textLength="60.7" lengthAdjust="spacingAndGlyphs" stroke="#02100d" stroke-width="0.43">Spain</text><text x="-478.18" y="8.34" font-family='"Liberation Serif", "Times New Roman", serif' font-size="21.83" textLength="50" lengthAdjust="spacingAndGlyphs" opacity="0.82">$2.0<tspan font-size="20.09">T</tspan></text></g>
<text transform="translate(286.76,803.32) rotate(8.83)" x="-14.94" y="5.83" font-family='"Liberation Sans", Arial, Helvetica, sans-serif' font-size="16.2" fill="#f4fffb" stroke="#f4fffb" stroke-width="0.25" textLength="29.89" lengthAdjust="spacingAndGlyphs">$41K</text>
<g transform="translate(600,852) rotate(13.81)" fill="#02100d"><text x="-546" y="7.93" font-family='"Liberation Sans", Arial, Helvetica, sans-serif' font-weight="700" font-size="22.33" textLength="121.3" lengthAdjust="spacingAndGlyphs" stroke="#02100d" stroke-width="0.4">Netherlands</text><text x="-418" y="7.85" font-family='"Liberation Serif", "Times New Roman", serif' font-size="20.31" textLength="46.5" lengthAdjust="spacingAndGlyphs" opacity="0.82">$1.4<tspan font-size="18.68">T</tspan></text></g>
<text transform="translate(292.16,776.34) rotate(13.81)" x="-14.94" y="5.83" font-family='"Liberation Sans", Arial, Helvetica, sans-serif' font-size="16.2" fill="#f4fffb" stroke="#f4fffb" stroke-width="0.25" textLength="29.89" lengthAdjust="spacingAndGlyphs">$78K</text>
<g transform="translate(600,852) rotate(17.47)" fill="#02100d"><text x="-546" y="7.82" font-family='"Liberation Sans", Arial, Helvetica, sans-serif' font-weight="700" font-size="22.02" textLength="69" lengthAdjust="spacingAndGlyphs" stroke="#02100d" stroke-width="0.4">Poland</text><text x="-470.39" y="7.71" font-family='"Liberation Serif", "Times New Roman", serif' font-size="19.21" textLength="44" lengthAdjust="spacingAndGlyphs" opacity="0.82">$1.1<tspan font-size="17.68">T</tspan></text></g>
<text transform="translate(297.62,756.85) rotate(17.47)" x="-12.91" y="5.04" font-family='"Liberation Sans", Arial, Helvetica, sans-serif' font-size="14" fill="#f4fffb" stroke="#f4fffb" stroke-width="0.25" textLength="25.83" lengthAdjust="spacingAndGlyphs">$31K</text>
<g transform="translate(600,852) rotate(20.69)" fill="#02100d"><text x="-546" y="8.16" font-family='"Liberation Sans", Arial, Helvetica, sans-serif' font-weight="700" font-size="22.98" textLength="120" lengthAdjust="spacingAndGlyphs" stroke="#02100d" stroke-width="0.41">Switzerland</text><text x="-419.11" y="8.03" font-family='"Liberation Serif", "Times New Roman", serif' font-size="19.91" textLength="45.6" lengthAdjust="spacingAndGlyphs" opacity="0.82">$1.1<tspan font-size="18.32">T</tspan></text></g>
<text transform="translate(303.44,740.02) rotate(20.69)" x="-15.58" y="5.04" font-family='"Liberation Sans", Arial, Helvetica, sans-serif' font-size="14" fill="#f4fffb" stroke="#f4fffb" stroke-width="0.25" textLength="31.16" lengthAdjust="spacingAndGlyphs">$118K</text>
<g transform="translate(600,852) rotate(23.41)" fill="#02100d"><text x="-546" y="5.74" font-family='"Liberation Sans", Arial, Helvetica, sans-serif' font-weight="700" font-size="16.18" textLength="60" lengthAdjust="spacingAndGlyphs" stroke="#02100d" stroke-width="0.29">Belgium</text><text x="-481.15" y="5.63" font-family='"Liberation Serif", "Times New Roman", serif' font-size="13.3" textLength="34.4" lengthAdjust="spacingAndGlyphs" opacity="0.82">$761<tspan font-size="12.23">B</tspan></text></g>
<text transform="translate(309.09,726.05) rotate(23.41)" x="-12.91" y="5.04" font-family='"Liberation Sans", Arial, Helvetica, sans-serif' font-size="14" fill="#f4fffb" stroke="#f4fffb" stroke-width="0.25" textLength="25.83" lengthAdjust="spacingAndGlyphs">$64K</text>
<g transform="translate(600,852) rotate(25.62)" fill="#02100d"><text x="-546" y="6.04" font-family='"Liberation Sans", Arial, Helvetica, sans-serif' font-weight="700" font-size="17" textLength="52.4" lengthAdjust="spacingAndGlyphs" stroke="#02100d" stroke-width="0.31">Ireland</text><text x="-488.5" y="5.92" font-family='"Liberation Serif", "Times New Roman", serif' font-size="13.99" textLength="36.2" lengthAdjust="spacingAndGlyphs" opacity="0.82">$750<tspan font-size="12.87">B</tspan></text></g>
<text transform="translate(314.17,714.92) rotate(25.62)" x="-15.99" y="5.04" font-family='"Liberation Sans", Arial, Helvetica, sans-serif' font-size="14" fill="#f4fffb" stroke="#f4fffb" stroke-width="0.25" textLength="31.98" lengthAdjust="spacingAndGlyphs">$135K</text>
<g transform="translate(600,852) rotate(27.76)" fill="#02100d"><text x="-546" y="5.87" font-family='"Liberation Sans", Arial, Helvetica, sans-serif' font-weight="700" font-size="16.53" textLength="58.7" lengthAdjust="spacingAndGlyphs" stroke="#02100d" stroke-width="0.3">Sweden</text><text x="-482.34" y="5.74" font-family='"Liberation Serif", "Times New Roman", serif' font-size="13.34" textLength="34.5" lengthAdjust="spacingAndGlyphs" opacity="0.82">$712<tspan font-size="12.27">B</tspan></text></g>
<text transform="translate(319.49,704.35) rotate(27.76)" x="-10.88" y="4.25" font-family='"Liberation Sans", Arial, Helvetica, sans-serif' font-size="11.8" fill="#f4fffb" stroke="#f4fffb" stroke-width="0.25" textLength="21.77" lengthAdjust="spacingAndGlyphs">$66K</text>
<g transform="translate(600,852) rotate(29.69)" fill="#02100d"><text x="-546" y="4.87" font-family='"Liberation Sans", Arial, Helvetica, sans-serif' font-weight="700" font-size="13.71" textLength="44.4" lengthAdjust="spacingAndGlyphs" stroke="#02100d" stroke-width="0.25">Austria</text><text x="-497.49" y="4.87" font-family='"Liberation Serif", "Times New Roman", serif' font-size="14.69" textLength="38" lengthAdjust="spacingAndGlyphs" opacity="0.82">$604<tspan font-size="13.51">B</tspan></text></g>
<text transform="translate(324.61,695.01) rotate(29.69)" x="-10.88" y="4.25" font-family='"Liberation Sans", Arial, Helvetica, sans-serif' font-size="11.8" fill="#f4fffb" stroke="#f4fffb" stroke-width="0.25" textLength="21.77" lengthAdjust="spacingAndGlyphs">$66K</text>
<g transform="translate(600,852) rotate(31.37)" fill="#02100d"><text x="-546" y="4.84" font-family='"Liberation Sans", Arial, Helvetica, sans-serif' font-weight="700" font-size="13.64" textLength="46.3" lengthAdjust="spacingAndGlyphs" stroke="#02100d" stroke-width="0.25">Norway</text><text x="-495.61" y="4.81" font-family='"Liberation Serif", "Times New Roman", serif' font-size="12.99" textLength="33.6" lengthAdjust="spacingAndGlyphs" opacity="0.82">$548<tspan font-size="11.95">B</tspan></text></g>
<g transform="translate(600,852) rotate(32.91)" fill="#02100d"><text x="-546" y="4.68" font-family='"Liberation Sans", Arial, Helvetica, sans-serif' font-weight="700" font-size="13.17" textLength="53" lengthAdjust="spacingAndGlyphs" stroke="#02100d" stroke-width="0.24">Denmark</text><text x="-489.05" y="4.68" font-family='"Liberation Serif", "Times New Roman", serif' font-size="13.17" textLength="34.7" lengthAdjust="spacingAndGlyphs" opacity="0.82">$500<tspan font-size="12.12">B</tspan></text></g>
<g transform="translate(600,852) rotate(34.29)" fill="#02100d"><text x="-546" y="4.11" font-family='"Liberation Sans", Arial, Helvetica, sans-serif' font-weight="700" font-size="11.59" textLength="46" lengthAdjust="spacingAndGlyphs" stroke="#02100d" stroke-width="0.21">Romania</text><text x="-496.52" y="4.1" font-family='"Liberation Serif", "Times New Roman", serif' font-size="11.36" textLength="29.4" lengthAdjust="spacingAndGlyphs" opacity="0.82">$445<tspan font-size="10.46">B</tspan></text></g>
<g transform="translate(600,852) rotate(35.55)" fill="#02100d"><text x="-546" y="4.11" font-family='"Liberation Sans", Arial, Helvetica, sans-serif' font-weight="700" font-size="11.57" textLength="41.1" lengthAdjust="spacingAndGlyphs" stroke="#02100d" stroke-width="0.21">Czechia</text><text x="-501.43" y="4.05" font-family='"Liberation Serif", "Times New Roman", serif' font-size="10.2" textLength="26.4" lengthAdjust="spacingAndGlyphs" opacity="0.82">$417<tspan font-size="9.39">B</tspan></text></g>
<g transform="translate(600,852) rotate(36.69)" fill="#02100d"><text x="-546" y="3.53" font-family='"Liberation Sans", Arial, Helvetica, sans-serif' font-weight="700" font-size="9.94" textLength="37.9" lengthAdjust="spacingAndGlyphs" stroke="#02100d" stroke-width="0.18">Portugal</text><text x="-505.12" y="3.51" font-family='"Liberation Serif", "Times New Roman", serif' font-size="9.35" textLength="24.2" lengthAdjust="spacingAndGlyphs" opacity="0.82">$365<tspan font-size="8.61">B</tspan></text></g>
<g transform="translate(600,852) rotate(37.72)" fill="#02100d"><text x="-546" y="3.48" font-family='"Liberation Sans", Arial, Helvetica, sans-serif' font-weight="700" font-size="9.82" textLength="32.8" lengthAdjust="spacingAndGlyphs" stroke="#02100d" stroke-width="0.18">Finland</text><text x="-510.26" y="3.47" font-family='"Liberation Serif", "Times New Roman", serif' font-size="9.35" textLength="24.2" lengthAdjust="spacingAndGlyphs" opacity="0.82">$336<tspan font-size="8.61">B</tspan></text></g>
<g transform="translate(600,852) rotate(41.43)" fill="#02100d"><text x="-546" y="8.44" font-family='"Liberation Sans", Arial, Helvetica, sans-serif' font-weight="700" font-size="23.79" textLength="159" lengthAdjust="spacingAndGlyphs" stroke="#02100d" stroke-width="0.43">Rest of Europe</text><text x="-379.86" y="8.44" font-family='"Liberation Serif", "Times New Roman", serif' font-size="24.8" textLength="56.8" lengthAdjust="spacingAndGlyphs" opacity="0.82">$2.2<tspan font-size="22.82">T</tspan></text></g>
<g transform="translate(600,852) rotate(46.98)" fill="#0a0528"><text x="-546" y="8.09" font-family='"Liberation Sans", Arial, Helvetica, sans-serif' font-weight="700" font-size="22.79" textLength="76.2" lengthAdjust="spacingAndGlyphs" stroke="#0a0528" stroke-width="0.41">Türkiye</text><text x="-462.96" y="8.09" font-family='"Liberation Serif", "Times New Roman", serif' font-size="23.14" textLength="53" lengthAdjust="spacingAndGlyphs" opacity="0.82">$1.6<tspan font-size="21.29">T</tspan></text></g>
<text transform="translate(383.73,620.23) rotate(46.98)" x="-14.94" y="5.83" font-family='"Liberation Sans", Arial, Helvetica, sans-serif' font-size="16.2" fill="#f4fffb" stroke="#f4fffb" stroke-width="0.25" textLength="29.89" lengthAdjust="spacingAndGlyphs">$18K</text>
<g transform="translate(600,852) rotate(51.21)" fill="#0a0528"><text x="-546" y="7.83" font-family='"Liberation Sans", Arial, Helvetica, sans-serif' font-weight="700" font-size="22.06" textLength="126" lengthAdjust="spacingAndGlyphs" stroke="#0a0528" stroke-width="0.4">Saudi Arabia</text><text x="-413.38" y="7.83" font-family='"Liberation Serif", "Times New Roman", serif' font-size="22.71" textLength="52" lengthAdjust="spacingAndGlyphs" opacity="0.82">$1.3<tspan font-size="20.89">T</tspan></text></g>
<text transform="translate(401.41,604.92) rotate(51.21)" x="-14.94" y="5.83" font-family='"Liberation Sans", Arial, Helvetica, sans-serif' font-size="16.2" fill="#f4fffb" stroke="#f4fffb" stroke-width="0.25" textLength="29.89" lengthAdjust="spacingAndGlyphs">$36K</text>
<g transform="translate(600,852) rotate(54.08)" fill="#0a0528"><text x="-546" y="5.28" font-family='"Liberation Sans", Arial, Helvetica, sans-serif' font-weight="700" font-size="14.86" textLength="36.5" lengthAdjust="spacingAndGlyphs" stroke="#0a0528" stroke-width="0.27">Israel</text><text x="-505.04" y="5.28" font-family='"Liberation Serif", "Times New Roman", serif' font-size="15.46" textLength="40" lengthAdjust="spacingAndGlyphs" opacity="0.82">$666<tspan font-size="14.22">B</tspan></text></g>
<text transform="translate(414.01,595.3) rotate(54.08)" x="-10.88" y="4.25" font-family='"Liberation Sans", Arial, Helvetica, sans-serif' font-size="11.8" fill="#f4fffb" stroke="#f4fffb" stroke-width="0.25" textLength="21.77" lengthAdjust="spacingAndGlyphs">$64K</text>
<g transform="translate(600,852) rotate(55.92)" fill="#0a0528"><text x="-546" y="5.42" font-family='"Liberation Sans", Arial, Helvetica, sans-serif' font-weight="700" font-size="15.27" textLength="30.3" lengthAdjust="spacingAndGlyphs" stroke="#0a0528" stroke-width="0.27">UAE</text><text x="-511.12" y="5.4" font-family='"Liberation Serif", "Times New Roman", serif' font-size="14.8" textLength="38.3" lengthAdjust="spacingAndGlyphs" opacity="0.82">$601<tspan font-size="13.62">B</tspan></text></g>
<text transform="translate(422.38,589.44) rotate(55.92)" x="-10.88" y="4.25" font-family='"Liberation Sans", Arial, Helvetica, sans-serif' font-size="11.8" fill="#f4fffb" stroke="#f4fffb" stroke-width="0.25" textLength="21.77" lengthAdjust="spacingAndGlyphs">$54K</text>
<g transform="translate(600,852) rotate(57.35)" fill="#0a0528"><text x="-546" y="3.94" font-family='"Liberation Sans", Arial, Helvetica, sans-serif' font-weight="700" font-size="11.1" textLength="19.8" lengthAdjust="spacingAndGlyphs" stroke="#0a0528" stroke-width="0.2">Iran</text><text x="-522.87" y="3.86" font-family='"Liberation Serif", "Times New Roman", serif' font-size="9.24" textLength="23.9" lengthAdjust="spacingAndGlyphs" opacity="0.82">$376<tspan font-size="8.5">B</tspan></text></g>
<g transform="translate(600,852) rotate(59.22)" fill="#0a0528"><text x="-546" y="4.45" font-family='"Liberation Sans", Arial, Helvetica, sans-serif' font-weight="700" font-size="12.52" textLength="129.5" lengthAdjust="spacingAndGlyphs" stroke="#0a0528" stroke-width="0.23">Rest of the Middle East</text><text x="-412.74" y="4.45" font-family='"Liberation Serif", "Times New Roman", serif' font-size="14.03" textLength="35.8" lengthAdjust="spacingAndGlyphs" opacity="0.82">$911<tspan font-size="12.91">B</tspan></text></g>
<g transform="translate(600,852) rotate(63.91)" fill="#140d00"><text x="-546" y="9.99" font-family='"Liberation Sans", Arial, Helvetica, sans-serif' font-weight="700" font-size="28.13" textLength="72" lengthAdjust="spacingAndGlyphs" stroke="#140d00" stroke-width="0.51">Brazil</text><text x="-465.56" y="9.77" font-family='"Liberation Serif", "Times New Roman", serif' font-size="22.8" textLength="52.2" lengthAdjust="spacingAndGlyphs" opacity="0.82">$2.3<tspan font-size="20.97">T</tspan></text></g>
<text transform="translate(460.6,567.29) rotate(63.91)" x="-14.47" y="5.83" font-family='"Liberation Sans", Arial, Helvetica, sans-serif' font-size="16.2" fill="#f4fffb" stroke="#f4fffb" stroke-width="0.25" textLength="28.94" lengthAdjust="spacingAndGlyphs">$11K</text>
<g transform="translate(600,852) rotate(68.25)" fill="#140d00"><text x="-546" y="5.62" font-family='"Liberation Sans", Arial, Helvetica, sans-serif' font-weight="700" font-size="15.84" textLength="69.5" lengthAdjust="spacingAndGlyphs" stroke="#140d00" stroke-width="0.29">Argentina</text><text x="-471.75" y="5.62" font-family='"Liberation Serif", "Times New Roman", serif' font-size="15.62" textLength="40.4" lengthAdjust="spacingAndGlyphs" opacity="0.82">$668<tspan font-size="14.37">B</tspan></text></g>
<text transform="translate(482.55,557.56) rotate(68.25)" x="-10.88" y="4.25" font-family='"Liberation Sans", Arial, Helvetica, sans-serif' font-size="11.8" fill="#f4fffb" stroke="#f4fffb" stroke-width="0.25" textLength="21.77" lengthAdjust="spacingAndGlyphs">$14K</text>
<g transform="translate(600,852) rotate(69.9)" fill="#140d00"><text x="-546" y="4.09" font-family='"Liberation Sans", Arial, Helvetica, sans-serif' font-weight="700" font-size="11.51" textLength="49.3" lengthAdjust="spacingAndGlyphs" stroke="#140d00" stroke-width="0.21">Colombia</text><text x="-493.25" y="4.09" font-family='"Liberation Serif", "Times New Roman", serif' font-size="11.51" textLength="31.32" lengthAdjust="spacingAndGlyphs" opacity="0.82">$462<tspan font-size="10.59">B</tspan></text></g>
<g transform="translate(600,852) rotate(71.11)" fill="#140d00"><text x="-546" y="3.81" font-family='"Liberation Sans", Arial, Helvetica, sans-serif' font-weight="700" font-size="10.75" textLength="26.7" lengthAdjust="spacingAndGlyphs" stroke="#140d00" stroke-width="0.19">Chile</text><text x="-516.08" y="3.74" font-family='"Liberation Serif", "Times New Roman", serif' font-size="8.77" textLength="22.7" lengthAdjust="spacingAndGlyphs" opacity="0.82">$363<tspan font-size="8.07">B</tspan></text></g>
<g transform="translate(600,852) rotate(72.12)" fill="#140d00"><text x="-546" y="3.44" font-family='"Liberation Sans", Arial, Helvetica, sans-serif' font-weight="700" font-size="9.68" textLength="22.38" lengthAdjust="spacingAndGlyphs" stroke="#140d00" stroke-width="0.17">Peru</text><text x="-520.72" y="3.4" font-family='"Liberation Serif", "Times New Roman", serif' font-size="8.77" textLength="22.7" lengthAdjust="spacingAndGlyphs" opacity="0.82">$327<tspan font-size="8.07">B</tspan></text></g>
<g transform="translate(600,852) rotate(73.17)" fill="#140d00"><text x="-546" y="2.99" font-family='"Liberation Sans", Arial, Helvetica, sans-serif' font-weight="700" font-size="8.41" textLength="84.5" lengthAdjust="spacingAndGlyphs" stroke="#140d00" stroke-width="0.15">Rest of South America</text><text x="-458.98" y="2.99" font-family='"Liberation Serif", "Times New Roman", serif' font-size="8.41" textLength="22.88" lengthAdjust="spacingAndGlyphs" opacity="0.82">$394<tspan font-size="7.74">B</tspan></text></g>
<g transform="translate(600,852) rotate(74.39)" fill="#02140c"><text x="-546" y="4.58" font-family='"Liberation Sans", Arial, Helvetica, sans-serif' font-weight="700" font-size="12.91" textLength="74.3" lengthAdjust="spacingAndGlyphs" stroke="#02140c" stroke-width="0.23">South Africa</text><text x="-467.83" y="4.58" font-family='"Liberation Serif", "Times New Roman", serif' font-size="12.91" textLength="35.13" lengthAdjust="spacingAndGlyphs" opacity="0.82">$444<tspan font-size="11.88">B</tspan></text></g>
<g transform="translate(600,852) rotate(75.6)" fill="#02140c"><text x="-546" y="4.13" font-family='"Liberation Sans", Arial, Helvetica, sans-serif' font-weight="700" font-size="11.63" textLength="33.6" lengthAdjust="spacingAndGlyphs" stroke="#02140c" stroke-width="0.21">Egypt</text><text x="-508.91" y="4.13" font-family='"Liberation Serif", "Times New Roman", serif' font-size="11.63" textLength="31.65" lengthAdjust="spacingAndGlyphs" opacity="0.82">$400<tspan font-size="10.7">B</tspan></text></g>
<g transform="translate(600,852) rotate(76.65)" fill="#02140c"><text x="-546" y="3.12" font-family='"Liberation Sans", Arial, Helvetica, sans-serif' font-weight="700" font-size="8.79" textLength="28" lengthAdjust="spacingAndGlyphs" stroke="#02140c" stroke-width="0.16">Nigeria</text><text x="-515.36" y="3.12" font-family='"Liberation Serif", "Times New Roman", serif' font-size="8.79" textLength="23.9" lengthAdjust="spacingAndGlyphs" opacity="0.82">$334<tspan font-size="8.08">B</tspan></text></g>
<g transform="translate(600,852) rotate(77.54)" fill="#02140c"><text x="-546" y="2.73" font-family='"Liberation Sans", Arial, Helvetica, sans-serif' font-weight="700" font-size="7.69" textLength="24.5" lengthAdjust="spacingAndGlyphs" stroke="#02140c" stroke-width="0.14">Algeria</text><text x="-519.19" y="2.73" font-family='"Liberation Serif", "Times New Roman", serif' font-size="7.69" textLength="20.92" lengthAdjust="spacingAndGlyphs" opacity="0.82">$285<tspan font-size="7.07">B</tspan></text></g>
<g transform="translate(600,852) rotate(79.05)" fill="#02140c"><text x="-546" y="2.91" font-family='"Liberation Sans", Arial, Helvetica, sans-serif' font-weight="700" font-size="8.2" textLength="35.53" lengthAdjust="spacingAndGlyphs" stroke="#02140c" stroke-width="0.15">Morocco</text><text x="-508.01" y="2.91" font-family='"Liberation Serif", "Times New Roman", serif' font-size="8.2" textLength="22.31" lengthAdjust="spacingAndGlyphs" opacity="0.82">$196<tspan font-size="7.54">B</tspan></text></g>
<g transform="translate(600,852) rotate(80.96)" fill="#02140c"><text x="-546" y="6.99" font-family='"Liberation Sans", Arial, Helvetica, sans-serif' font-weight="700" font-size="19.7" textLength="119.7" lengthAdjust="spacingAndGlyphs" stroke="#02140c" stroke-width="0.35">Rest of Africa</text><text x="-420.39" y="6.94" font-family='"Liberation Serif", "Times New Roman", serif' font-size="18.49" textLength="54.3" lengthAdjust="spacingAndGlyphs" opacity="0.82">$1.7<tspan font-size="17.01">TB</tspan></text></g>
<g transform="translate(600,852) rotate(86.21)" fill="#03101c"><text x="-546" y="7.54" font-family='"Liberation Sans", Arial, Helvetica, sans-serif' font-weight="700" font-size="21.23" textLength="85.4" lengthAdjust="spacingAndGlyphs" stroke="#03101c" stroke-width="0.38">Australia</text><text x="-454.23" y="7.54" font-family='"Liberation Serif", "Times New Roman", serif' font-size="21.4" textLength="49" lengthAdjust="spacingAndGlyphs" opacity="0.82">$1.9<tspan font-size="19.69">T</tspan></text></g>
<text transform="translate(579.07,535.69) rotate(86.21)" x="-14.94" y="5.83" font-family='"Liberation Sans", Arial, Helvetica, sans-serif' font-size="16.2" fill="#f4fffb" stroke="#f4fffb" stroke-width="0.25" textLength="29.89" lengthAdjust="spacingAndGlyphs">$69K</text>
<g transform="translate(600,852) rotate(89.44)" fill="#03101c"><text x="-546" y="2.99" font-family='"Liberation Sans", Arial, Helvetica, sans-serif' font-weight="700" font-size="8.43" textLength="50" lengthAdjust="spacingAndGlyphs" stroke="#03101c" stroke-width="0.15">New Zealand</text><text x="-493.47" y="2.96" font-family='"Liberation Serif", "Times New Roman", serif' font-size="7.73" textLength="20" lengthAdjust="spacingAndGlyphs" opacity="0.82">$281<tspan font-size="7.11">B</tspan></text></g>
<g transform="translate(600,852) rotate(-268.95)" fill="#120300"><text x="-540.5" y="2.91" font-family='"Liberation Sans", Arial, Helvetica, sans-serif' font-weight="700" font-size="8.2" textLength="64.45" lengthAdjust="spacingAndGlyphs" stroke="#120300" stroke-width="0.15">Rest of Oceania</text><text x="-473.59" y="2.9" font-family='"Liberation Serif", "Times New Roman", serif' font-size="7.99" textLength="16.8" lengthAdjust="spacingAndGlyphs" opacity="0.82">$47<tspan font-size="7.35">B</tspan></text></g>
<text transform="translate(805.5,717.6) rotate(58.5)" y="12.87" text-anchor="middle" font-family='"Liberation Serif", "Times New Roman", serif' font-weight="700" font-size="39" textLength="78" lengthAdjust="spacingAndGlyphs" fill="#0d0d12">Asia</text>
<text transform="translate(649,1080) rotate(-13.2)" y="12.71" text-anchor="middle" font-family='"Liberation Serif", "Times New Roman", serif' font-weight="700" font-size="38.5" textLength="268" lengthAdjust="spacingAndGlyphs" fill="#0d0d12">North America</text>
<text transform="translate(356,858.5) rotate(-90)" y="12.71" text-anchor="middle" font-family='"Liberation Serif", "Times New Roman", serif' font-weight="700" font-size="38.5" textLength="130" lengthAdjust="spacingAndGlyphs" fill="#0d0d12">Europe</text>
<g transform="translate(600,852) rotate(52.1)"><text x="-295" y="-4.41" font-family='"Liberation Serif", "Times New Roman", serif' font-weight="700" font-size="23" textLength="75.4" lengthAdjust="spacingAndGlyphs" fill="#0d0d12">Middle</text></g><g transform="translate(600,852) rotate(52.1)"><text x="-295" y="19.59" font-family='"Liberation Serif", "Times New Roman", serif' font-weight="700" font-size="23" textLength="45.6" lengthAdjust="spacingAndGlyphs" fill="#0d0d12">East</text></g>
<g transform="translate(600,852) rotate(67.4)"><text x="-292.5" y="-4.41" font-family='"Liberation Serif", "Times New Roman", serif' font-weight="700" font-size="23" textLength="64.5" lengthAdjust="spacingAndGlyphs" fill="#0d0d12">South</text></g><g transform="translate(600,852) rotate(67.4)"><text x="-292.5" y="19.59" font-family='"Liberation Serif", "Times New Roman", serif' font-weight="700" font-size="23" textLength="88" lengthAdjust="spacingAndGlyphs" fill="#0d0d12">America</text></g>
<g transform="translate(600,852) rotate(78.3)"><text x="-291" y="7.76" font-family='"Liberation Serif", "Times New Roman", serif' font-weight="700" font-size="23.5" textLength="61.7" lengthAdjust="spacingAndGlyphs" fill="#0d0d12">Africa</text></g>
<g transform="translate(600,852) rotate(86.8)"><text x="-290.5" y="7.76" font-family='"Liberation Serif", "Times New Roman", serif' font-weight="700" font-size="23.5" textLength="82" lengthAdjust="spacingAndGlyphs" fill="#0d0d12">Oceania</text></g>
<path transform="translate(492.76,319.19) rotate(348.62)" d="M-1.8,0 L1.8,0" stroke="#111" stroke-width="1.1"/>
<path transform="translate(609.52,306.88) rotate(1)" d="M-1.8,0 L1.8,0" stroke="#111" stroke-width="1.1"/>
<defs><path id="pcarc" d="M604.92,538.54A313.5,313.5 0 0 1 801.51,611.85"/></defs>
<text font-family='"Liberation Sans", Arial, Helvetica, sans-serif' font-weight="700" font-size="14.2" fill="#fff" opacity="0.95"><textPath href="#pcarc" textLength="127" lengthAdjust="spacingAndGlyphs">GDP per capita 2026</textPath></text>
<path transform="translate(737.19,565.67) rotate(25.6)" d="M-2,-3.2L2.2,0L-2,3.2Z" fill="#fff"/>
<defs><radialGradient id="gsea" gradientUnits="userSpaceOnUse" cx="600.0" cy="877.0" r="206.5"><stop offset="0" stop-color="#efe7d3"/><stop offset="0.55" stop-color="#e8e0cb"/><stop offset="0.8" stop-color="#d9d1bd"/><stop offset="0.93" stop-color="#c6bead"/><stop offset="1" stop-color="#bab2a2"/></radialGradient><clipPath id="gclip"><circle cx="600.0" cy="852.0" r="184.5"/></clipPath></defs>
<circle cx="600.0" cy="852.0" r="192.75" fill="#f7f3ea"/>
<circle cx="600.0" cy="852.0" r="184.5" fill="url(#gsea)"/>
<g clip-path="url(#gclip)">
<path d="M570,685.83C570.83,684.58 575,682.92 578.33,681.67C581.67,680.42 585.83,679.11 590,678.33C594.17,677.56 598.89,677.14 603.33,677C607.78,676.86 612.22,677.28 616.67,677.5C621.11,677.72 626.39,677.92 630,678.33C633.61,678.75 637.36,678.61 638.33,680C639.31,681.39 636.94,684.44 635.83,686.67C634.72,688.89 632.92,691.33 631.67,693.33C630.42,695.33 630,697 628.33,698.67C626.67,700.33 624.17,701.78 621.67,703.33C619.17,704.89 615.83,706.61 613.33,708C610.83,709.39 608.61,710.44 606.67,711.67C604.72,712.89 603.19,713.81 601.67,715.33C600.14,716.86 598.75,719.08 597.5,720.83C596.25,722.58 595.28,724.81 594.17,725.83C593.06,726.86 592.08,727.56 590.83,727C589.58,726.44 587.92,724.36 586.67,722.5C585.42,720.64 584.11,718.19 583.33,715.83C582.56,713.47 582.06,710.69 582,708.33C581.94,705.97 582.64,703.61 583,701.67C583.36,699.72 584.67,698.19 584.17,696.67C583.67,695.14 581.81,693.75 580,692.5C578.19,691.25 575,690.28 573.33,689.17C571.67,688.06 569.17,687.08 570,685.83Z" fill="#b9af98" />
<path d="M484.17,710.67L493.33,707L500,709.5L506.67,702L516.67,700.33L520,693.67L531.67,689.5L540,683.67L550,680.33L566.67,678.67L583.33,677L591.67,676.67L593.33,678.33L580,682L565,683.67L556.67,687.83L563.33,695.33L565,702L571.67,710.33L570,715.33L564.17,716.17L562.5,722L559.17,725.33L552.5,722.83L548.33,717.83L541.67,717L546.67,723.67L550.83,730.33L555,738.67L554.17,745.33L560.83,747.83L558.33,751.17L548.33,750.33L541.67,752L533.33,756.17L526.67,758.67L523.33,762L533.33,761.17L535.83,765.33L528.33,768.67L520,769.5L515,772.83L510,776.17L506.67,781.17L501.67,785.33L500,790.33L495,795.33L488.33,799.5L482.5,804.5L480,808.67L481.67,814.5L479.17,819.5L475.83,816.17L474.17,808.67L470,805.33L461.67,806.17L453.33,808.67L446.67,811.17L441.67,817L440,825.33L441.67,832.83L445.83,836.17L451.67,833.67L455.83,830.33L458.33,832.83L456.67,837L453.33,840.33L454.17,845.33L458.33,848.67L463.33,852L467.5,857L473.33,861.17L478.33,860.33L482.5,864.5L480,867.83L475,866.17L470,865.33L465,861.17L460,856.17L456.67,852L448.33,848.67L438.33,843.67L430,837L425,830.33L421.67,822L419.67,818.67L417.59,818.28L419.24,810.32L421.24,802.44L423.59,794.65L426.27,786.98L429.29,779.42L432.63,772.01L436.3,764.75L440.28,757.66L444.57,750.75L449.15,744.04L454.03,737.53L459.19,731.24L464.61,725.19L470.3,719.38L476.24,713.82L482.41,708.53Z" fill="#1a84f5" stroke-linejoin="round"/>
<path d="M498.33,726.17C500.14,724.78 503.61,723.81 506.67,723.67C509.72,723.53 514.17,725.61 516.67,725.33C519.17,725.06 520.42,722 521.67,722C522.92,722 524.44,723.67 524.17,725.33C523.89,727 521.25,729.78 520,732C518.75,734.22 517.5,736.44 516.67,738.67C515.83,740.89 515.83,743.53 515,745.33C514.17,747.14 512.78,749.22 511.67,749.5C510.56,749.78 509.17,748.53 508.33,747C507.5,745.47 508.06,742 506.67,740.33C505.28,738.67 501.81,738.39 500,737C498.19,735.61 496.11,733.81 495.83,732C495.56,730.19 496.53,727.56 498.33,726.17Z" fill="#e6dec9" />
<path d="M526.67,707C527.22,705.61 533.33,705.19 536.67,705.33C540,705.47 544.44,706.44 546.67,707.83C548.89,709.22 550.56,712.28 550,713.67C549.44,715.06 546.11,716.17 543.33,716.17C540.56,716.17 536.11,715.19 533.33,713.67C530.56,712.14 526.11,708.39 526.67,707Z" fill="#e6dec9" opacity="0.9"/>
<path d="M516.67,707C517.92,706.17 521.94,707.14 523.33,708.67C524.72,710.19 525.56,714.5 525,716.17C524.44,717.83 521.53,719.08 520,718.67C518.47,718.25 516.39,715.61 515.83,713.67C515.28,711.72 515.42,707.83 516.67,707Z" fill="#e6dec9" opacity="0.9"/>
<path d="M493.33,713.67C494.17,712.97 500.56,713.81 503.33,714.5C506.11,715.19 509.44,716.72 510,717.83C510.56,718.94 508.61,721.03 506.67,721.17C504.72,721.31 500.56,719.92 498.33,718.67C496.11,717.42 492.5,714.36 493.33,713.67Z" fill="#e6dec9" opacity="0.9"/>
<path d="M533.33,693.67C534.44,692.14 543.06,689.92 546.67,689.5C550.28,689.08 554.44,690.06 555,691.17C555.56,692.28 552.5,694.92 550,696.17C547.5,697.42 542.78,699.08 540,698.67C537.22,698.25 532.22,695.19 533.33,693.67Z" fill="#e6dec9" opacity="0.9"/>
<path d="M510,699.5C511.39,698.39 517.22,697 520,697C522.78,697 526.67,698.39 526.67,699.5C526.67,700.61 522.5,702.97 520,703.67C517.5,704.36 513.33,704.36 511.67,703.67C510,702.97 508.61,700.61 510,699.5Z" fill="#e6dec9" opacity="0.9"/>
<path d="M477.5,768.67C478.19,767.64 481.11,765.75 483.33,764.5C485.56,763.25 489.44,761.36 490.83,761.17C492.22,760.97 492.64,762.36 491.67,763.33C490.69,764.31 487.08,765.78 485,767C482.92,768.22 480.42,770.39 479.17,770.67C477.92,770.94 476.81,769.69 477.5,768.67Z" fill="#e6dec9" />
<path d="M484.17,774.5C484.44,773.25 486.81,770.47 488.33,768.67C489.86,766.86 492.17,764.22 493.33,763.67C494.5,763.11 495.75,764.08 495.33,765.33C494.92,766.58 492.28,769.36 490.83,771.17C489.39,772.97 487.78,775.61 486.67,776.17C485.56,776.72 483.89,775.75 484.17,774.5Z" fill="#e6dec9" />
<path d="M492.5,776.17C492.78,774.78 495.08,771.03 496.67,769.5C498.25,767.97 500.94,767 502,767C503.06,767 503.61,768.53 503,769.5C502.39,770.47 499.67,771.44 498.33,772.83C497,774.22 495.97,777.28 495,777.83C494.03,778.39 492.22,777.56 492.5,776.17Z" fill="#e6dec9" />
<path d="M554.17,761.17C554.44,760.19 557.92,758.94 560,757.83C562.08,756.72 565.28,754.08 566.67,754.5C568.06,754.92 567.92,758.39 568.33,760.33C568.75,762.28 570,765.06 569.17,766.17C568.33,767.28 565.14,767.42 563.33,767C561.53,766.58 559.86,764.64 558.33,763.67C556.81,762.69 553.89,762.14 554.17,761.17Z" fill="#1a84f5" />
<path d="M543.33,756.67C544.03,756.17 547.36,755.5 548.33,755.67C549.31,755.83 549.86,757.17 549.17,757.67C548.47,758.17 545.14,758.83 544.17,758.67C543.19,758.5 542.64,757.17 543.33,756.67Z" fill="#1a84f5" />
<path d="M469.17,836.17C470.28,835.33 474.86,834.36 478.33,834.5C481.81,834.64 486.39,836.17 490,837C493.61,837.83 497.22,838.67 500,839.5C502.78,840.33 506.67,841.44 506.67,842C506.67,842.56 502.78,843.06 500,842.83C497.22,842.61 493.33,841.22 490,840.67C486.67,840.11 483.06,839.69 480,839.5C476.94,839.31 473.47,840.06 471.67,839.5C469.86,838.94 468.06,837 469.17,836.17Z" fill="#1a84f5" />
<path d="M500,841.17C501.11,840.47 505.69,840.14 508.33,840.33C510.97,840.53 514.44,841.5 515.83,842.33C517.22,843.17 517.92,844.78 516.67,845.33C515.42,845.89 510.83,845.81 508.33,845.67C505.83,845.53 503.06,845.25 501.67,844.5C500.28,843.75 498.89,841.86 500,841.17Z" fill="#1a84f5" />
<path d="M483.33,846.17C484.17,845.67 488.06,845.36 489.17,845.67C490.28,845.97 490.83,847.5 490,848C489.17,848.5 485.28,848.97 484.17,848.67C483.06,848.36 482.5,846.67 483.33,846.17Z" fill="#1a84f5" />
<path d="M482.5,864.5L486.67,858.67L493.33,854.5L500,852.83L506.67,853.67L513.33,857L521.67,859.5L526.67,865.33L533.33,868.67L541.67,870.33L546.67,877L548.33,883.67L558.33,888.67L568.33,892L576.67,895.33L582.5,899.5L583.33,905.33L580,912L576.67,918.67L575,927L573.33,935.33L568.33,942L560,945.33L555,952L553.33,958.67L548.33,962L546.67,968.67L541.67,972L541.67,977L536.67,980.33L533.33,987L530,993.67L531.67,1000.33L535,1007L541.67,1012L538.33,1013.67L530,1010.33L521.67,1005.33L516.67,997L513.33,988.67L510,980.33L508.33,968.67L506.67,958.67L505,947L504.17,935.33L500,927L493.33,918.67L485,910.33L478.33,903.67L473.33,898.67L472.5,893.67L475,885.33L480,878.67L481.67,872Z" fill="#e2b135" stroke-linejoin="round"/>
<path d="M650.46,795.54L656.83,794.12L665.33,792.71L676.67,792.28L685.17,792.71L687.29,796.25L686.58,800.5L690.83,803.33L696.5,804.75L703.58,807.58L706.42,809.71L710.67,805.46L717.75,805.46L724.83,807.58L731.92,809.71L737.02,810.42L737.87,818.21L739.85,826L743.25,835.92L747.5,847.25L751.04,860L754.17,854.5L757.5,859.5L760.83,862.83L766.67,865.33L771.67,867L771.67,873.67L768.33,882L761.67,888.67L755,897L750,907L749.17,918.67L751.67,927L750,935.33L743.33,943.67L738.33,952L731.67,956.17L730,962L725,968.67L718.33,974.5L710,977L701.67,979.5L698.33,975.33L695.83,967L692.5,958.67L690.83,950.33L686.67,943.67L688.33,935.33L691.67,928.67L692.5,922L690.83,913.67L686.67,905.33L683.33,900.33L684.17,893.67L682.5,887L676.67,884.5L673.33,881.17L666.67,878.67L660,879.5L650,882L643.33,883.67L636.67,880.33L630,872L625,863.67L619.17,857L620,852L621.42,848.67L620.71,838.75L622.12,831.67L625.67,824.58L629.92,817.5L635.58,813.25L639.83,807.58L645.5,801.92Z" fill="#05ba7e" stroke-linejoin="round"/>
<path d="M766.67,925.33C767.83,925.06 768.94,926.44 768.67,928.67C768.39,930.89 766.39,935.33 765,938.67C763.61,942 761.72,946.44 760.33,948.67C758.94,950.89 757.44,952.56 756.67,952C755.89,951.44 755.53,947.83 755.67,945.33C755.81,942.83 756.5,939.5 757.5,937C758.5,934.5 760.14,932.28 761.67,930.33C763.19,928.39 765.5,925.61 766.67,925.33Z" fill="#05ba7e" />
<path d="M717.75,787.75L722,784.92L727.67,783.5L733.33,782.79L740.42,784.21L746.79,784.21L751.75,784.21L756,788.46L760.25,791.29L763.08,792.28L767.33,795.54L772.29,799.08L777.32,797.54L778.78,802.53L780.1,807.56L781.27,812.63L782.31,817.72L783.19,822.85L783.94,827.99L784.54,833.16L785,838.34L785.31,843.53L785.47,848.73L785.49,853.93L785.36,859.13L771.67,859.5L766.67,859L762.5,857L760.83,852L763.08,860L760.25,860L755.72,845.83L751.04,834.5L746.93,824.58L742.97,816.79L741.12,813.25L739.71,809.71L739.28,803.33L739,797.67L734.75,795.54L729.08,796.25L723.42,795.54L719.17,792Z" fill="#7660d0" stroke-linejoin="round"/>
<path d="M764.5,814.67C764.5,813.01 766.39,812.31 767.33,813.25C768.28,814.19 768.75,818.21 770.17,820.33C771.58,822.46 773.94,825.29 775.83,826C777.72,826.71 780.32,824.11 781.5,824.58C782.68,825.06 783.63,827.65 782.92,828.83C782.21,830.01 779.14,831.67 777.25,831.67C775.36,831.67 773.24,830.25 771.58,828.83C769.93,827.42 768.51,825.53 767.33,823.17C766.15,820.81 764.5,816.32 764.5,814.67Z" fill="#e6dec9" />
<path d="M641.96,774.29L649.75,773.58L656.12,775L658.96,771.46L657.12,766.5L654,762.25L653.29,760.12L658.96,759.42L663.92,756.58L668.17,753.75L672.42,750.21L676.67,749.5L678.08,745.96L677.38,740.29L679.5,738.88L682.33,741L681.62,744.54L685.17,746.67L689.42,748.08L693.67,745.96L697.21,744.54L699.33,741L702.88,738.88L705,736.75L710.67,736.04L705,735.05L701.46,732.5L700.75,728.96L703.58,725.42L701.46,724L697.92,727.54L695.79,732.5L697.21,736.75L694.38,739.58L691.54,743.83L688,743.12L685.88,738.88L682.33,737.46L678.79,736.04L673.12,735.33L672.42,731.08L675.25,728.96L680.21,726.12L683.75,720.46L689.42,715.5L696.5,713.38L705,712.38L712.08,713.8L719.17,716.21L724.83,718.33L729.08,721.88L730.64,720.31L734.51,724.26L738.25,728.32L741.88,732.5L745.38,736.78L748.75,741.16L751.98,745.65L755.09,750.22L758.05,754.89L756.71,763.67L759.54,769.33L758.12,775L760.25,780.67L761.67,787.75L760.25,790.87L756,788.03L751.75,783.78L746.79,783.78L746.08,780.67L741.83,776.42L737.58,772.88L738.29,769.33L734.75,768.62L730.5,770.75L725.54,770.04L722.71,773.58L721.29,777.83L719.17,782.08L721.29,783.22L717.75,785.2L712.08,784.92L707.83,785.62L710.67,789.17L712.08,793.42L708.54,792L706.42,787.75L702.17,783.5L697.21,778.54L693.67,773.58L690.12,770.04L688,772.17L689.42,776.42L692.25,780.67L695.08,783.5L697.92,787.75L695.79,789.17L693.67,786.33L689.42,782.08L685.17,777.83L682.33,775L679.5,773.58L674.54,775L669.58,775.71L666.75,778.54L663.21,782.79L661.08,787.75L656.83,791.29L650.46,792.71L646.21,791.29L641.53,789.17Z" fill="#038676" stroke-linejoin="round"/>
<path d="M622.12,721.88C622.79,721.21 623.9,720.27 625.67,720.03C627.44,719.8 630.62,720.22 632.75,720.46C634.88,720.69 637.35,720.86 638.42,721.45C639.48,722.04 639.83,723.22 639.12,724C638.42,724.78 635.94,725.84 634.17,726.12C632.4,726.41 630.15,725.7 628.5,725.7C626.85,725.7 625.38,726.41 624.25,726.12C623.12,725.84 622.05,724.71 621.7,724C621.35,723.29 621.46,722.54 622.12,721.88Z" fill="#038676" />
<path d="M641.25,746.67C641.96,745.53 645.03,745.18 646.21,745.53C647.39,745.89 648.33,747.71 648.33,748.79C648.33,749.88 647.27,751.46 646.21,752.05C645.15,752.64 642.78,753.23 641.96,752.33C641.13,751.44 640.54,747.8 641.25,746.67Z" fill="#038676" />
<path d="M650.46,737.46C650.78,736.99 654.04,735.48 654.71,735.62C655.37,735.76 657.05,738.2 657.12,738.88C657.19,739.55 655.3,741.78 655.42,742.42C655.53,743.05 657.54,744.61 658.25,745.25C658.96,745.89 661.82,748.08 662.5,748.79C663.18,749.5 665.05,751.72 665.05,752.33C665.05,752.94 663.32,754.53 662.5,754.88C661.68,755.24 657.85,755.82 656.83,755.88C655.81,755.93 652.65,755.8 652.3,755.45C651.95,755.1 653.33,752.93 653.29,752.33C653.25,751.74 651.92,750.14 651.88,749.5C651.83,748.86 652.97,746.6 652.87,745.96C652.77,745.32 651.02,743.69 650.88,743.12C650.74,742.56 651.49,740.86 651.45,740.29C651.41,739.72 650.13,737.93 650.46,737.46Z" fill="#038676" />
<path d="M680.63,777.12C681.11,776.23 682.57,775.17 683.04,776.7C683.51,778.23 683.82,784.61 683.47,786.33C683.11,788.06 681.46,787.75 680.92,787.04C680.37,786.33 680.26,783.74 680.21,782.08C680.16,780.43 680.16,778.02 680.63,777.12Z" fill="#038676" />
<path d="M690.83,790.58C691.54,790.18 695.08,789.52 695.79,789.88C696.5,790.23 695.79,792.31 695.08,792.71C694.38,793.11 692.25,792.64 691.54,792.28C690.83,791.93 690.12,790.98 690.83,790.58Z" fill="#038676" />
<path d="M714.21,797.67C714.44,797.5 718.58,798.09 719.17,798.38C719.76,798.66 718.58,799.48 717.75,799.37C716.92,799.25 713.97,797.83 714.21,797.67Z" fill="#038676" />
<path d="M732.62,798.38C732.86,798.14 735.81,798.49 736.17,798.8C736.52,799.11 735.34,800.29 734.75,800.22C734.16,800.15 732.39,798.61 732.62,798.38Z" fill="#038676" />
<path d="M667.46,783.78C667.58,783.5 668.52,783.08 668.88,783.22C669.23,783.36 669.7,784.35 669.58,784.63C669.47,784.92 668.52,785.06 668.17,784.92C667.81,784.77 667.34,784.07 667.46,783.78Z" fill="#038676" />
<path d="M719.88,723.29C720.23,723.06 723.18,723.6 724.83,724C726.49,724.4 729.32,725.18 729.79,725.7C730.26,726.22 728.85,727.16 727.67,727.12C726.49,727.07 724.01,726.05 722.71,725.42C721.41,724.78 719.52,723.53 719.88,723.29Z" fill="#e6dec9" opacity="0.8"/>
<path d="M756,758C756.47,757.53 758.48,759.42 759.54,760.83C760.6,762.25 761.55,764.73 762.38,766.5C763.2,768.27 764.5,770.51 764.5,771.46C764.5,772.4 763.2,772.52 762.38,772.17C761.55,771.81 760.49,770.75 759.54,769.33C758.6,767.92 757.3,765.56 756.71,763.67C756.12,761.78 755.53,758.47 756,758Z" fill="#f2481c" />
<path d="M759.54,773.58C760.01,772.17 761.78,770.99 763.08,772.17C764.38,773.35 766.15,777.83 767.33,780.67C768.51,783.5 769.22,786.69 770.17,789.17C771.11,791.65 773.24,794.48 773,795.54C772.76,796.6 770.4,796.08 768.75,795.54C767.1,795 764.26,793.58 763.08,792.28C761.9,790.98 762.14,789.69 761.67,787.75C761.19,785.81 760.6,783.03 760.25,780.67C759.9,778.31 759.07,775 759.54,773.58Z" fill="#e6dec9" />
<path d="M763.79,775C763.67,773.58 765.68,772.64 766.62,773.58C767.57,774.53 768.51,778.07 769.46,780.67C770.4,783.26 772.17,787.75 772.29,789.17C772.41,790.58 770.99,790.35 770.17,789.17C769.34,787.99 768.4,784.44 767.33,782.08C766.27,779.72 763.91,776.42 763.79,775Z" fill="#f2481c" />
<path d="M519.12,686.17A337.73,337.73 0 0 0 680.88,686.17M479.93,711.91A220.87,220.87 0 0 0 720.07,711.91M445.27,751.51A257.06,257.06 0 0 0 754.73,751.51M423.1,799.6A289.26,289.26 0 0 0 776.9,799.6M415.53,855.22A314.52,314.52 0 0 0 784.47,855.22M424.04,907.48A284.95,284.95 0 0 0 775.96,907.48M447.04,955.17A240.77,240.77 0 0 0 752.96,955.17M481.41,993.34A215.01,215.01 0 0 0 718.59,993.34M524.96,1020.55A202.07,202.07 0 0 0 675.04,1020.55M600,667.5C587.18,670.77 542.11,679.11 523.08,687.12C504.05,695.14 497.52,703.94 485.81,715.59C474.1,727.24 461.85,741.93 452.84,757.01C443.83,772.08 436.47,788.62 431.76,806.04C427.04,823.46 424.41,843.53 424.56,861.52C424.71,879.51 427.66,897.39 432.65,913.98C437.65,930.58 445.44,947.24 454.53,961.08C463.62,974.93 474.86,986.89 487.21,997.04C499.56,1007.19 509.83,1015.4 528.63,1021.98C547.43,1028.55 588.1,1034.08 600,1036.5M600,667.5C589.09,671.18 550.76,680.04 534.57,689.6C518.38,699.17 512.82,711.37 502.86,724.89C492.9,738.42 482.48,754.56 474.82,770.76C467.15,786.96 460.89,804.35 456.88,822.11C452.87,839.88 450.63,859.32 450.76,877.34C450.89,895.35 453.4,913.79 457.64,930.19C461.89,946.6 468.52,963.06 476.25,975.77C483.99,988.47 493.55,998.09 504.06,1006.41C514.56,1014.72 523.3,1020.65 539.29,1025.66C555.28,1030.68 589.88,1034.69 600,1036.5M600,667.5C592.08,671.69 564.22,681.25 552.46,692.64C540.7,704.02 536.66,720.15 529.43,735.82C522.19,751.49 514.62,769.2 509.05,786.67C503.48,804.15 498.93,822.49 496.02,840.66C493.11,858.84 491.48,877.68 491.57,895.72C491.66,913.75 493.49,932.72 496.57,948.87C499.66,965.01 504.47,981.16 510.09,992.58C515.71,1004 522.66,1011.13 530.29,1017.39C537.92,1023.64 544.27,1026.94 555.89,1030.13C567.51,1033.31 592.65,1035.44 600,1036.5M600,667.5C595.83,672.1 581.19,682.28 575.01,695.07C568.82,707.87 566.7,726.97 562.9,744.26C559.09,761.55 555.11,780.39 552.18,798.81C549.26,817.23 546.87,836.29 545.33,854.79C543.8,873.28 542.95,891.74 543,909.79C543.04,927.84 544,947.14 545.63,963.06C547.25,978.98 549.78,994.85 552.73,1005.31C555.69,1015.78 559.34,1021.13 563.35,1025.85C567.37,1030.58 570.7,1031.89 576.81,1033.66C582.92,1035.44 596.14,1036.03 600,1036.5M600,667.5L600,1036.5M600,667.5C604.17,672.1 618.81,682.28 624.99,695.07C631.18,707.87 633.3,726.97 637.1,744.26C640.91,761.55 644.89,780.39 647.82,798.81C650.74,817.23 653.13,836.29 654.67,854.79C656.2,873.28 657.05,891.74 657,909.79C656.96,927.84 656,947.14 654.37,963.06C652.75,978.98 650.22,994.85 647.27,1005.31C644.31,1015.78 640.66,1021.13 636.65,1025.85C632.63,1030.58 629.3,1031.89 623.19,1033.66C617.08,1035.44 603.86,1036.03 600,1036.5M600,667.5C607.92,671.69 635.78,681.25 647.54,692.64C659.3,704.02 663.34,720.15 670.57,735.82C677.81,751.49 685.38,769.2 690.95,786.67C696.52,804.15 701.07,822.49 703.98,840.66C706.89,858.84 708.52,877.68 708.43,895.72C708.34,913.75 706.51,932.72 703.43,948.87C700.34,965.01 695.53,981.16 689.91,992.58C684.29,1004 677.34,1011.13 669.71,1017.39C662.08,1023.64 655.73,1026.94 644.11,1030.13C632.49,1033.31 607.35,1035.44 600,1036.5M600,667.5C610.91,671.18 649.24,680.04 665.43,689.6C681.62,699.17 687.18,711.37 697.14,724.89C707.1,738.42 717.52,754.56 725.18,770.76C732.85,786.96 739.11,804.35 743.12,822.11C747.13,839.88 749.37,859.32 749.24,877.34C749.11,895.35 746.6,913.79 742.36,930.19C738.11,946.6 731.48,963.06 723.75,975.77C716.01,988.47 706.45,998.09 695.94,1006.41C685.44,1014.72 676.7,1020.65 660.71,1025.66C644.72,1030.68 610.12,1034.69 600,1036.5M600,667.5C612.82,670.77 657.89,679.11 676.92,687.12C695.95,695.14 702.48,703.94 714.19,715.59C725.9,727.24 738.15,741.93 747.16,757.01C756.17,772.08 763.53,788.62 768.24,806.04C772.96,823.46 775.59,843.53 775.44,861.52C775.29,879.51 772.34,897.39 767.35,913.98C762.35,930.58 754.56,947.24 745.47,961.08C736.38,974.93 725.14,986.89 712.79,997.04C700.44,1007.19 690.17,1015.4 671.37,1021.98C652.57,1028.55 611.9,1034.08 600,1036.5" fill="none" stroke="#fff7e2" stroke-width="1.25" stroke-linecap="round" opacity="0.95"/>
</g>
<circle cx="600.0" cy="852.0" r="184.5" fill="none" stroke="#f7f3ea" stroke-width="1"/>
<defs><clipPath id="fc"><circle cx="0" cy="0" r="1"/></clipPath><filter id="fsh" x="-30%" y="-30%" width="160%" height="160%"><feGaussianBlur stdDeviation="1.2"/></filter></defs>
<circle cx="883.67" cy="354.17" r="17.1" fill="#5a4a3a" opacity="0.22" filter="url(#fsh)"/>
<circle cx="883.67" cy="353.57" r="16.5" fill="#d9532f"/>
<circle cx="883.67" cy="353.57" r="14.65" fill="#fffaf2"/>
<g transform="translate(883.67,353.57) rotate(-60.35) scale(13.4)" clip-path="url(#fc)"><rect x="-1.05" y="-1.05" width="2.1" height="2.1" fill="#ee1c25"/><polygon points="-0.55,-0.79 -0.47,-0.56 -0.23,-0.56 -0.43,-0.41 -0.35,-0.17 -0.55,-0.32 -0.75,-0.17 -0.67,-0.41 -0.87,-0.56 -0.63,-0.56" fill="#ffde00"/><polygon points="-0.12,-0.89 -0.1,-0.81 -0.02,-0.81 -0.08,-0.77 -0.06,-0.69 -0.12,-0.74 -0.18,-0.69 -0.16,-0.77 -0.22,-0.81 -0.14,-0.81" fill="#ffde00"/><polygon points="0.08,-0.69 0.1,-0.61 0.18,-0.61 0.12,-0.57 0.14,-0.49 0.08,-0.54 0.02,-0.49 0.04,-0.57 -0.02,-0.61 0.06,-0.61" fill="#ffde00"/><polygon points="0.08,-0.39 0.1,-0.31 0.18,-0.31 0.12,-0.27 0.14,-0.19 0.08,-0.24 0.02,-0.19 0.04,-0.27 -0.02,-0.31 0.06,-0.31" fill="#ffde00"/><polygon points="-0.12,-0.19 -0.1,-0.11 -0.02,-0.11 -0.08,-0.07 -0.06,0.01 -0.12,-0.04 -0.18,0.01 -0.16,-0.07 -0.22,-0.11 -0.14,-0.11" fill="#ffde00"/></g>
<circle cx="1127.3" cy="627.09" r="17.1" fill="#5a4a3a" opacity="0.22" filter="url(#fsh)"/>
<circle cx="1127.3" cy="626.49" r="16.5" fill="#d9532f"/>
<circle cx="1127.3" cy="626.49" r="14.65" fill="#fffaf2"/>
<g transform="translate(1127.3,626.49) rotate(-23.16) scale(13.4)" clip-path="url(#fc)"><rect x="-1.05" y="-1" width="2.1" height="0.68" fill="#ff7a1a"/><rect x="-1.05" y="-0.34" width="2.1" height="0.68" fill="#ffffff"/><rect x="-1.05" y="0.33" width="2.1" height="0.68" fill="#128807"/><circle cx="0" cy="0" r="0.27" fill="#1a3fa8"/><circle cx="0" cy="0" r="0.17" fill="#e9eefc"/><circle cx="0" cy="0" r="0.07" fill="#1a3fa8"/></g>
<circle cx="1164.7" cy="752.54" r="17.1" fill="#5a4a3a" opacity="0.22" filter="url(#fsh)"/>
<circle cx="1164.7" cy="751.94" r="16.5" fill="#d9532f"/>
<circle cx="1164.7" cy="751.94" r="14.65" fill="#fffaf2"/>
<g transform="translate(1164.7,751.94) rotate(-10.05) scale(13.4)" clip-path="url(#fc)"><rect x="-1.05" y="-1.05" width="2.1" height="2.1" fill="#ffffff"/><circle cx="0" cy="0" r="0.42" fill="#e60012"/></g>
<circle cx="1172.45" cy="845.33" r="16.1" fill="#5a4a3a" opacity="0.22" filter="url(#fsh)"/>
<circle cx="1172.45" cy="844.73" r="15.5" fill="#d9532f"/>
<circle cx="1172.45" cy="844.73" r="13.65" fill="#fffaf2"/>
<g transform="translate(1172.45,844.73) rotate(-0.73) scale(12.4)" clip-path="url(#fc)"><rect x="-1.05" y="-1.05" width="2.1" height="2.1" fill="#ffffff"/><g transform="rotate(33)"><path d="M-0.38,0A0.38,0.38 0 0 1 0.38,0Z" fill="#cd2e3a"/><path d="M-0.38,0A0.38,0.38 0 0 0 0.38,0Z" fill="#0047a0"/><circle cx="-0.19" cy="0" r="0.19" fill="#cd2e3a"/><circle cx="0.19" cy="0" r="0.19" fill="#0047a0"/></g><g transform="rotate(35)"><rect x="0.56" y="-0.2" width="0.2" height="0.4" fill="#111"/></g><g transform="rotate(145)"><rect x="0.56" y="-0.2" width="0.2" height="0.4" fill="#111"/></g><g transform="rotate(215)"><rect x="0.56" y="-0.2" width="0.2" height="0.4" fill="#111"/></g><g transform="rotate(325)"><rect x="0.56" y="-0.2" width="0.2" height="0.4" fill="#111"/></g></g>
<circle cx="1170.84" cy="896.22" r="16.1" fill="#5a4a3a" opacity="0.22" filter="url(#fsh)"/>
<circle cx="1170.84" cy="895.62" r="15.5" fill="#d9532f"/>
<circle cx="1170.84" cy="895.62" r="13.65" fill="#fffaf2"/>
<g transform="translate(1170.84,895.62) rotate(4.37) scale(12.4)" clip-path="url(#fc)"><rect x="-1.05" y="-1" width="2.1" height="1.01" fill="#f0151f"/><rect x="-1.05" y="-0.01" width="2.1" height="1.01" fill="#ffffff"/></g>
<circle cx="1160.33" cy="932.48" r="9.6" fill="#5a4a3a" opacity="0.22" filter="url(#fsh)"/>
<circle cx="1160.33" cy="931.88" r="9" fill="#d9532f"/>
<circle cx="1160.33" cy="931.88" r="7.15" fill="#fffaf2"/>
<g transform="translate(1160.33,931.88) rotate(8.11) scale(5.9)" clip-path="url(#fc)"><rect x="-1.05" y="-1.05" width="2.1" height="2.1" fill="#f0142a"/><rect x="-1.05" y="-1.05" width="1.1" height="1.05" fill="#1b2fb0"/><circle cx="-0.5" cy="-0.5" r="0.26" fill="#ffffff"/></g>
<circle cx="1156.68" cy="954.87" r="9.6" fill="#5a4a3a" opacity="0.22" filter="url(#fsh)"/>
<circle cx="1156.68" cy="954.27" r="9" fill="#d9532f"/>
<circle cx="1156.68" cy="954.27" r="7.15" fill="#fffaf2"/>
<g transform="translate(1156.68,954.27) rotate(10.41) scale(5.9)" clip-path="url(#fc)"><rect x="-1.05" y="-1" width="2.1" height="1.01" fill="#ef2b3d"/><rect x="-1.05" y="-0.01" width="2.1" height="1.01" fill="#ffffff"/><circle cx="-0.45" cy="-0.5" r="0.3" fill="#ffffff"/><circle cx="-0.35" cy="-0.5" r="0.25" fill="#ef2b3d"/><polygon points="-0.15,-0.62 -0.12,-0.54 -0.04,-0.54 -0.11,-0.49 -0.08,-0.4 -0.15,-0.45 -0.22,-0.4 -0.19,-0.49 -0.26,-0.54 -0.18,-0.54" fill="#ffffff"/></g>
<circle cx="1153.4" cy="971.35" r="9.6" fill="#5a4a3a" opacity="0.22" filter="url(#fsh)"/>
<circle cx="1153.4" cy="970.75" r="9" fill="#d9532f"/>
<circle cx="1153.4" cy="970.75" r="7.15" fill="#fffaf2"/>
<g transform="translate(1153.4,970.75) rotate(12.11) scale(5.9)" clip-path="url(#fc)"><rect x="-1.05" y="-1" width="2.1" height="0.34" fill="#e8112d"/><rect x="-1.05" y="-0.67" width="2.1" height="0.34" fill="#ffffff"/><rect x="-1.05" y="-0.34" width="2.1" height="0.68" fill="#2d2a8a"/><rect x="-1.05" y="0.33" width="2.1" height="0.34" fill="#ffffff"/><rect x="-1.05" y="0.66" width="2.1" height="0.34" fill="#e8112d"/></g>
<circle cx="1149.88" cy="986.72" r="9.6" fill="#5a4a3a" opacity="0.22" filter="url(#fsh)"/>
<circle cx="1149.88" cy="986.12" r="9" fill="#d9532f"/>
<circle cx="1149.88" cy="986.12" r="7.15" fill="#fffaf2"/>
<g transform="translate(1149.88,986.12) rotate(13.71) scale(5.9)" clip-path="url(#fc)"><rect x="-1.05" y="-1" width="2.1" height="1.01" fill="#0038a8"/><rect x="-1.05" y="-0.01" width="2.1" height="1.01" fill="#ce1126"/><polygon points="-1.05,-1.05 0.1,0 -1.05,1.05" fill="#ffffff"/><circle cx="-0.62" cy="0" r="0.16" fill="#fcd116"/></g>
<circle cx="1146.09" cy="1001.39" r="9.6" fill="#5a4a3a" opacity="0.22" filter="url(#fsh)"/>
<circle cx="1146.09" cy="1000.79" r="9" fill="#d9532f"/>
<circle cx="1146.09" cy="1000.79" r="7.15" fill="#fffaf2"/>
<g transform="translate(1146.09,1000.79) rotate(15.24) scale(5.9)" clip-path="url(#fc)"><rect x="-1.05" y="-1.05" width="2.1" height="2.1" fill="#1f8a4c"/><circle cx="-0.05" cy="0" r="0.55" fill="#f0242e"/></g>
<circle cx="1142.01" cy="1015.63" r="9.6" fill="#5a4a3a" opacity="0.22" filter="url(#fsh)"/>
<circle cx="1142.01" cy="1015.03" r="9" fill="#d9532f"/>
<circle cx="1142.01" cy="1015.03" r="7.15" fill="#fffaf2"/>
<g transform="translate(1142.01,1015.03) rotate(16.74) scale(5.9)" clip-path="url(#fc)"><rect x="-1.05" y="-1.05" width="2.1" height="2.1" fill="#e8202a"/><polygon points="0,-0.52 0.12,-0.14 0.52,-0.14 0.2,0.09 0.32,0.47 0,0.24 -0.32,0.47 -0.2,0.09 -0.52,-0.14 -0.12,-0.14" fill="#ffde21"/></g>
<circle cx="1137.62" cy="1029.57" r="9.6" fill="#5a4a3a" opacity="0.22" filter="url(#fsh)"/>
<circle cx="1137.62" cy="1028.97" r="9" fill="#d9532f"/>
<circle cx="1137.62" cy="1028.97" r="7.15" fill="#fffaf2"/>
<g transform="translate(1137.62,1028.97) rotate(18.22) scale(5.9)" clip-path="url(#fc)"><rect x="-1.05" y="-1" width="2.1" height="0.19" fill="#d8222a"/><rect x="-1.05" y="-0.82" width="2.1" height="0.19" fill="#ffffff"/><rect x="-1.05" y="-0.64" width="2.1" height="0.19" fill="#d8222a"/><rect x="-1.05" y="-0.46" width="2.1" height="0.19" fill="#ffffff"/><rect x="-1.05" y="-0.28" width="2.1" height="0.19" fill="#d8222a"/><rect x="-1.05" y="-0.1" width="2.1" height="0.19" fill="#ffffff"/><rect x="-1.05" y="0.09" width="2.1" height="0.19" fill="#d8222a"/><rect x="-1.05" y="0.27" width="2.1" height="0.19" fill="#ffffff"/><rect x="-1.05" y="0.45" width="2.1" height="0.19" fill="#d8222a"/><rect x="-1.05" y="0.63" width="2.1" height="0.19" fill="#ffffff"/><rect x="-1.05" y="0.81" width="2.1" height="0.19" fill="#d8222a"/><rect x="-1.05" y="-1.05" width="1.25" height="1.15" fill="#1a2a8a"/><circle cx="-0.5" cy="-0.48" r="0.34" fill="#ffd21e"/><circle cx="-0.4" cy="-0.48" r="0.28" fill="#1a2a8a"/><polygon points="-0.22,-0.65 -0.18,-0.53 -0.06,-0.53 -0.16,-0.46 -0.12,-0.34 -0.22,-0.42 -0.32,-0.34 -0.28,-0.46 -0.38,-0.53 -0.26,-0.53" fill="#ffd21e"/></g>
<circle cx="1133.18" cy="1042.53" r="9.6" fill="#5a4a3a" opacity="0.22" filter="url(#fsh)"/>
<circle cx="1133.18" cy="1041.93" r="9" fill="#d9532f"/>
<circle cx="1133.18" cy="1041.93" r="7.15" fill="#fffaf2"/>
<g transform="translate(1133.18,1041.93) rotate(19.61) scale(5.9)" clip-path="url(#fc)"><rect x="-1.05" y="-1.05" width="2.1" height="2.1" fill="#e8202a"/><ellipse cx="0" cy="-0.33" rx="0.17" ry="0.33" fill="#fff" transform="rotate(0)"/><ellipse cx="0" cy="-0.33" rx="0.17" ry="0.33" fill="#fff" transform="rotate(72)"/><ellipse cx="0" cy="-0.33" rx="0.17" ry="0.33" fill="#fff" transform="rotate(144)"/><ellipse cx="0" cy="-0.33" rx="0.17" ry="0.33" fill="#fff" transform="rotate(216)"/><ellipse cx="0" cy="-0.33" rx="0.17" ry="0.33" fill="#fff" transform="rotate(288)"/><circle cx="0" cy="0" r="0.08" fill="#e8202a"/></g>
<circle cx="1128.92" cy="1054.1" r="9.6" fill="#5a4a3a" opacity="0.22" filter="url(#fsh)"/>
<circle cx="1128.92" cy="1053.5" r="9" fill="#d9532f"/>
<circle cx="1128.92" cy="1053.5" r="7.15" fill="#fffaf2"/>
<g transform="translate(1128.92,1053.5) rotate(20.85) scale(5.9)" clip-path="url(#fc)"><rect x="-1.05" y="-1.05" width="2.1" height="2.1" fill="#1b8a2e"/><rect x="-1.05" y="-1.05" width="0.5" height="2.1" fill="#ffffff"/><circle cx="0.22" cy="0" r="0.48" fill="#ffffff"/><circle cx="0.35" cy="0" r="0.41" fill="#1b8a2e"/><polygon points="0.47,-0.27 0.47,-0.15 0.58,-0.11 0.47,-0.08 0.46,0.03 0.4,-0.06 0.29,-0.03 0.36,-0.12 0.29,-0.22 0.4,-0.18" fill="#ffffff"/></g>
<circle cx="1125.09" cy="1063.88" r="9.6" fill="#5a4a3a" opacity="0.22" filter="url(#fsh)"/>
<circle cx="1125.09" cy="1063.28" r="9" fill="#d9532f"/>
<circle cx="1125.09" cy="1063.28" r="7.15" fill="#fffaf2"/>
<g transform="translate(1125.09,1063.28) rotate(21.92) scale(5.9)" clip-path="url(#fc)"><rect x="-1.05" y="-1.05" width="2.1" height="2.1" fill="#3aa0d8"/><circle cx="0.05" cy="-0.08" r="0.36" fill="#f5d040"/><path d="M-0.45,0.42Q0.05,0.72 0.55,0.42" fill="none" stroke="#f5d040" stroke-width="0.12"/></g>
<circle cx="803.08" cy="1388.94" r="17.1" fill="#5a4a3a" opacity="0.22" filter="url(#fsh)"/>
<circle cx="803.08" cy="1388.34" r="16.5" fill="#3f7fe0"/>
<circle cx="803.08" cy="1388.34" r="14.65" fill="#fffaf2"/>
<g transform="translate(803.08,1388.34) rotate(69.26) scale(13.4)" clip-path="url(#fc)"><rect x="-1.05" y="-1" width="2.1" height="0.16" fill="#c8202f"/><rect x="-1.05" y="-0.85" width="2.1" height="0.16" fill="#ffffff"/><rect x="-1.05" y="-0.7" width="2.1" height="0.16" fill="#c8202f"/><rect x="-1.05" y="-0.54" width="2.1" height="0.16" fill="#ffffff"/><rect x="-1.05" y="-0.39" width="2.1" height="0.16" fill="#c8202f"/><rect x="-1.05" y="-0.24" width="2.1" height="0.16" fill="#ffffff"/><rect x="-1.05" y="-0.08" width="2.1" height="0.16" fill="#c8202f"/><rect x="-1.05" y="0.07" width="2.1" height="0.16" fill="#ffffff"/><rect x="-1.05" y="0.23" width="2.1" height="0.16" fill="#c8202f"/><rect x="-1.05" y="0.38" width="2.1" height="0.16" fill="#ffffff"/><rect x="-1.05" y="0.53" width="2.1" height="0.16" fill="#c8202f"/><rect x="-1.05" y="0.69" width="2.1" height="0.16" fill="#ffffff"/><rect x="-1.05" y="0.84" width="2.1" height="0.16" fill="#c8202f"/><rect x="-1.05" y="-1.05" width="1.15" height="1.13" fill="#2b3a8c"/><circle cx="-0.85" cy="-0.85" r="0.06" fill="#ffffff"/><circle cx="-0.55" cy="-0.85" r="0.06" fill="#ffffff"/><circle cx="-0.25" cy="-0.85" r="0.06" fill="#ffffff"/><circle cx="-0.85" cy="-0.55" r="0.06" fill="#ffffff"/><circle cx="-0.55" cy="-0.55" r="0.06" fill="#ffffff"/><circle cx="-0.25" cy="-0.55" r="0.06" fill="#ffffff"/><circle cx="-0.85" cy="-0.25" r="0.06" fill="#ffffff"/><circle cx="-0.55" cy="-0.25" r="0.06" fill="#ffffff"/><circle cx="-0.25" cy="-0.25" r="0.06" fill="#ffffff"/></g>
<circle cx="308.22" cy="1346.33" r="17.1" fill="#5a4a3a" opacity="0.22" filter="url(#fsh)"/>
<circle cx="308.22" cy="1345.73" r="16.5" fill="#3f7fe0"/>
<circle cx="308.22" cy="1345.73" r="14.65" fill="#fffaf2"/>
<g transform="translate(308.22,1345.73) rotate(-59.42) scale(13.4)" clip-path="url(#fc)"><rect x="-1" y="-1.05" width="0.51" height="2.1" fill="#e8202a"/><rect x="-0.51" y="-1.05" width="1.01" height="2.1" fill="#ffffff"/><rect x="0.49" y="-1.05" width="0.51" height="2.1" fill="#e8202a"/><polygon points="0,-0.52 0.12,-0.3 0.3,-0.36 0.24,-0.08 0.46,-0.12 0.36,0.08 0.44,0.18 0.12,0.32 0.14,0.5 0.03,0.42 0.03,0.6 -0.03,0.6 -0.03,0.42 -0.14,0.5 -0.12,0.32 -0.44,0.18 -0.36,0.08 -0.46,-0.12 -0.24,-0.08 -0.3,-0.36 -0.12,-0.3" fill="#e8202a"/></g>
<circle cx="254.72" cy="1310.51" r="17.1" fill="#5a4a3a" opacity="0.22" filter="url(#fsh)"/>
<circle cx="254.72" cy="1309.91" r="16.5" fill="#3f7fe0"/>
<circle cx="254.72" cy="1309.91" r="14.65" fill="#fffaf2"/>
<g transform="translate(254.72,1309.91) rotate(-52.98) scale(13.4)" clip-path="url(#fc)"><rect x="-1" y="-1.05" width="0.68" height="2.1" fill="#0a7a48"/><rect x="-0.34" y="-1.05" width="0.68" height="2.1" fill="#ffffff"/><rect x="0.33" y="-1.05" width="0.68" height="2.1" fill="#d8202f"/><circle cx="0" cy="0" r="0.2" fill="#8a6a2c"/><circle cx="0" cy="-0.02" r="0.1" fill="#4a6a2c"/></g>
<circle cx="160" cy="1220.43" r="17.1" fill="#5a4a3a" opacity="0.22" filter="url(#fsh)"/>
<circle cx="160" cy="1219.83" r="16.5" fill="#12876f"/>
<circle cx="160" cy="1219.83" r="14.65" fill="#fffaf2"/>
<g transform="translate(160,1219.83) rotate(-39.89) scale(13.4)" clip-path="url(#fc)"><rect x="-1.05" y="-1" width="2.1" height="0.68" fill="#111111"/><rect x="-1.05" y="-0.34" width="2.1" height="0.68" fill="#e0121c"/><rect x="-1.05" y="0.33" width="2.1" height="0.68" fill="#ffcc00"/></g>
<circle cx="84.51" cy="1103.94" r="17.1" fill="#5a4a3a" opacity="0.22" filter="url(#fsh)"/>
<circle cx="84.51" cy="1103.34" r="16.5" fill="#12876f"/>
<circle cx="84.51" cy="1103.34" r="14.65" fill="#fffaf2"/>
<g transform="translate(84.51,1103.34) rotate(-25.99) scale(13.4)" clip-path="url(#fc)"><rect x="-1.5" y="-1" width="3" height="2" fill="#012169"/><path d="M-1.5,-1L1.5,1M1.5,-1L-1.5,1" stroke="#fff" stroke-width="0.4"/><path d="M-1.5,-1L1.5,1M1.5,-1L-1.5,1" stroke="#c8102e" stroke-width="0.16"/><rect x="-0.34" y="-1" width="0.68" height="2" fill="#fff"/><rect x="-1.5" y="-0.34" width="3" height="0.68" fill="#fff"/><rect x="-0.2" y="-1" width="0.4" height="2" fill="#c8102e"/><rect x="-1.5" y="-0.2" width="3" height="0.4" fill="#c8102e"/></g>
<circle cx="44.97" cy="996.96" r="17.1" fill="#5a4a3a" opacity="0.22" filter="url(#fsh)"/>
<circle cx="44.97" cy="996.36" r="16.5" fill="#12876f"/>
<circle cx="44.97" cy="996.36" r="14.65" fill="#fffaf2"/>
<g transform="translate(44.97,996.36) rotate(-14.58) scale(13.4)" clip-path="url(#fc)"><rect x="-1" y="-1.05" width="0.68" height="2.1" fill="#1a3aa8"/><rect x="-0.34" y="-1.05" width="0.68" height="2.1" fill="#ffffff"/><rect x="0.33" y="-1.05" width="0.68" height="2.1" fill="#ef2b36"/></g>
<circle cx="29.01" cy="906.17" r="17.1" fill="#5a4a3a" opacity="0.22" filter="url(#fsh)"/>
<circle cx="29.01" cy="905.57" r="16.5" fill="#12876f"/>
<circle cx="29.01" cy="905.57" r="14.65" fill="#fffaf2"/>
<g transform="translate(29.01,905.57) rotate(-5.36) scale(13.4)" clip-path="url(#fc)"><rect x="-1" y="-1.05" width="0.68" height="2.1" fill="#0a9a4a"/><rect x="-0.34" y="-1.05" width="0.68" height="2.1" fill="#ffffff"/><rect x="0.33" y="-1.05" width="0.68" height="2.1" fill="#e0242f"/></g>
<circle cx="26.94" cy="830.09" r="17.1" fill="#5a4a3a" opacity="0.22" filter="url(#fsh)"/>
<circle cx="26.94" cy="829.49" r="16.5" fill="#12876f"/>
<circle cx="26.94" cy="829.49" r="14.65" fill="#fffaf2"/>
<g transform="translate(26.94,829.49) rotate(2.25) scale(13.4)" clip-path="url(#fc)"><rect x="-1.05" y="-1" width="2.1" height="0.68" fill="#ffffff"/><rect x="-1.05" y="-0.34" width="2.1" height="0.68" fill="#1a48c8"/><rect x="-1.05" y="0.33" width="2.1" height="0.68" fill="#e0242a"/></g>
<circle cx="33.3" cy="764.53" r="17.1" fill="#5a4a3a" opacity="0.22" filter="url(#fsh)"/>
<circle cx="33.3" cy="763.93" r="16.5" fill="#12876f"/>
<circle cx="33.3" cy="763.93" r="14.65" fill="#fffaf2"/>
<g transform="translate(33.3,763.93) rotate(8.83) scale(13.4)" clip-path="url(#fc)"><rect x="-1.05" y="-1" width="2.1" height="0.51" fill="#d8141e"/><rect x="-1.05" y="-0.51" width="2.1" height="1.01" fill="#ffc400"/><rect x="-1.05" y="0.49" width="2.1" height="0.51" fill="#d8141e"/><rect x="-0.62" y="-0.28" width="0.36" height="0.52" fill="#b0552a"/><rect x="-0.56" y="-0.2" width="0.24" height="0.2" fill="#d8141e"/></g>
<circle cx="44.53" cy="716.07" r="15.6" fill="#5a4a3a" opacity="0.22" filter="url(#fsh)"/>
<circle cx="44.53" cy="715.47" r="15" fill="#12876f"/>
<circle cx="44.53" cy="715.47" r="13.15" fill="#fffaf2"/>
<g transform="translate(44.53,715.47) rotate(13.81) scale(11.9)" clip-path="url(#fc)"><rect x="-1.05" y="-1" width="2.1" height="0.68" fill="#d8202f"/><rect x="-1.05" y="-0.34" width="2.1" height="0.68" fill="#ffffff"/><rect x="-1.05" y="0.33" width="2.1" height="0.68" fill="#1f4a9c"/></g>
<circle cx="54.85" cy="681.06" r="15.1" fill="#5a4a3a" opacity="0.22" filter="url(#fsh)"/>
<circle cx="54.85" cy="680.46" r="14.5" fill="#12876f"/>
<circle cx="54.85" cy="680.46" r="12.65" fill="#fffaf2"/>
<g transform="translate(54.85,680.46) rotate(17.47) scale(11.4)" clip-path="url(#fc)"><rect x="-1.05" y="-1" width="2.1" height="1.01" fill="#ffffff"/><rect x="-1.05" y="-0.01" width="2.1" height="1.01" fill="#dc143c"/></g>
<circle cx="65.35" cy="650.71" r="15.1" fill="#5a4a3a" opacity="0.22" filter="url(#fsh)"/>
<circle cx="65.35" cy="650.11" r="14.5" fill="#12876f"/>
<circle cx="65.35" cy="650.11" r="12.65" fill="#fffaf2"/>
<g transform="translate(65.35,650.11) rotate(20.69) scale(11.4)" clip-path="url(#fc)"><rect x="-1.05" y="-1.05" width="2.1" height="2.1" fill="#e8141e"/><rect x="-0.18" y="-0.58" width="0.36" height="1.16" fill="#ffffff"/><rect x="-0.58" y="-0.18" width="1.16" height="0.36" fill="#ffffff"/></g>
<circle cx="81.05" cy="627.92" r="9.1" fill="#5a4a3a" opacity="0.22" filter="url(#fsh)"/>
<circle cx="81.05" cy="627.32" r="8.5" fill="#12876f"/>
<circle cx="81.05" cy="627.32" r="6.65" fill="#fffaf2"/>
<g transform="translate(81.05,627.32) rotate(23.41) scale(5.4)" clip-path="url(#fc)"><rect x="-1" y="-1.05" width="0.68" height="2.1" fill="#111111"/><rect x="-0.34" y="-1.05" width="0.68" height="2.1" fill="#fcd420"/><rect x="0.33" y="-1.05" width="0.68" height="2.1" fill="#e8242f"/></g>
<circle cx="90.1" cy="608.07" r="9.1" fill="#5a4a3a" opacity="0.22" filter="url(#fsh)"/>
<circle cx="90.1" cy="607.47" r="8.5" fill="#12876f"/>
<circle cx="90.1" cy="607.47" r="6.65" fill="#fffaf2"/>
<g transform="translate(90.1,607.47) rotate(25.62) scale(5.4)" clip-path="url(#fc)"><rect x="-1" y="-1.05" width="0.68" height="2.1" fill="#189a58"/><rect x="-0.34" y="-1.05" width="0.68" height="2.1" fill="#ffffff"/><rect x="0.33" y="-1.05" width="0.68" height="2.1" fill="#ff8a2a"/></g>
<circle cx="99.59" cy="589.2" r="9.1" fill="#5a4a3a" opacity="0.22" filter="url(#fsh)"/>
<circle cx="99.59" cy="588.6" r="8.5" fill="#12876f"/>
<circle cx="99.59" cy="588.6" r="6.65" fill="#fffaf2"/>
<g transform="translate(99.59,588.6) rotate(27.76) scale(5.4)" clip-path="url(#fc)"><rect x="-1.05" y="-1.05" width="2.1" height="2.1" fill="#0a5aa8"/><rect x="-0.49" y="-1.05" width="0.42" height="2.1" fill="#fecc02"/><rect x="-1.05" y="-0.21" width="2.1" height="0.42" fill="#fecc02"/></g>
<circle cx="108.72" cy="572.54" r="9.1" fill="#5a4a3a" opacity="0.22" filter="url(#fsh)"/>
<circle cx="108.72" cy="571.94" r="8.5" fill="#12876f"/>
<circle cx="108.72" cy="571.94" r="6.65" fill="#fffaf2"/>
<g transform="translate(108.72,571.94) rotate(29.69) scale(5.4)" clip-path="url(#fc)"><rect x="-1.05" y="-1" width="2.1" height="0.68" fill="#e8242f"/><rect x="-1.05" y="-0.34" width="2.1" height="0.68" fill="#ffffff"/><rect x="-1.05" y="0.33" width="2.1" height="0.68" fill="#e8242f"/></g>
<circle cx="117.17" cy="558.21" r="9.1" fill="#5a4a3a" opacity="0.22" filter="url(#fsh)"/>
<circle cx="117.17" cy="557.61" r="8.5" fill="#12876f"/>
<circle cx="117.17" cy="557.61" r="6.65" fill="#fffaf2"/>
<g transform="translate(117.17,557.61) rotate(31.37) scale(5.4)" clip-path="url(#fc)"><rect x="-1.05" y="-1.05" width="2.1" height="2.1" fill="#d8202f"/><rect x="-0.56" y="-1.05" width="0.56" height="2.1" fill="#ffffff"/><rect x="-1.05" y="-0.28" width="2.1" height="0.56" fill="#ffffff"/><rect x="-0.42" y="-1.05" width="0.28" height="2.1" fill="#1a3a8c"/><rect x="-1.05" y="-0.14" width="2.1" height="0.28" fill="#1a3a8c"/></g>
<circle cx="125.22" cy="545.39" r="9.1" fill="#5a4a3a" opacity="0.22" filter="url(#fsh)"/>
<circle cx="125.22" cy="544.79" r="8.5" fill="#12876f"/>
<circle cx="125.22" cy="544.79" r="6.65" fill="#fffaf2"/>
<g transform="translate(125.22,544.79) rotate(32.91) scale(5.4)" clip-path="url(#fc)"><rect x="-1.05" y="-1.05" width="2.1" height="2.1" fill="#d8142a"/><rect x="-0.44" y="-1.05" width="0.32" height="2.1" fill="#ffffff"/><rect x="-1.05" y="-0.16" width="2.1" height="0.32" fill="#ffffff"/></g>
<circle cx="132.78" cy="534.02" r="9.1" fill="#5a4a3a" opacity="0.22" filter="url(#fsh)"/>
<circle cx="132.78" cy="533.42" r="8.5" fill="#12876f"/>
<circle cx="132.78" cy="533.42" r="6.65" fill="#fffaf2"/>
<g transform="translate(132.78,533.42) rotate(34.29) scale(5.4)" clip-path="url(#fc)"><rect x="-1" y="-1.05" width="0.68" height="2.1" fill="#1a3a9c"/><rect x="-0.34" y="-1.05" width="0.68" height="2.1" fill="#fcd116"/><rect x="0.33" y="-1.05" width="0.68" height="2.1" fill="#d8202a"/></g>
<circle cx="139.9" cy="523.81" r="9.1" fill="#5a4a3a" opacity="0.22" filter="url(#fsh)"/>
<circle cx="139.9" cy="523.21" r="8.5" fill="#12876f"/>
<circle cx="139.9" cy="523.21" r="6.65" fill="#fffaf2"/>
<g transform="translate(139.9,523.21) rotate(35.55) scale(5.4)" clip-path="url(#fc)"><rect x="-1.05" y="-1" width="2.1" height="1.01" fill="#ffffff"/><rect x="-1.05" y="-0.01" width="2.1" height="1.01" fill="#d8141e"/><polygon points="-1.05,-1.05 0,0 -1.05,1.05" fill="#1a4a8c"/></g>
<circle cx="146.56" cy="514.69" r="9.1" fill="#5a4a3a" opacity="0.22" filter="url(#fsh)"/>
<circle cx="146.56" cy="514.09" r="8.5" fill="#12876f"/>
<circle cx="146.56" cy="514.09" r="6.65" fill="#fffaf2"/>
<g transform="translate(146.56,514.09) rotate(36.69) scale(5.4)" clip-path="url(#fc)"><rect x="-1" y="-1.05" width="0.81" height="2.1" fill="#0a6a2a"/><rect x="-0.2" y="-1.05" width="1.21" height="2.1" fill="#e8141e"/><circle cx="-0.2" cy="0" r="0.26" fill="#fcd116"/><circle cx="-0.2" cy="0" r="0.14" fill="#e8e8e8"/></g>
<circle cx="152.68" cy="506.63" r="9.1" fill="#5a4a3a" opacity="0.22" filter="url(#fsh)"/>
<circle cx="152.68" cy="506.03" r="8.5" fill="#12876f"/>
<circle cx="152.68" cy="506.03" r="6.65" fill="#fffaf2"/>
<g transform="translate(152.68,506.03) rotate(37.72) scale(5.4)" clip-path="url(#fc)"><rect x="-1.05" y="-1.05" width="2.1" height="2.1" fill="#ffffff"/><rect x="-0.53" y="-1.05" width="0.5" height="2.1" fill="#1a3a9c"/><rect x="-1.05" y="-0.25" width="2.1" height="0.5" fill="#1a3a9c"/></g>
<circle cx="210.11" cy="434.75" r="15.1" fill="#5a4a3a" opacity="0.22" filter="url(#fsh)"/>
<circle cx="210.11" cy="434.15" r="14.5" fill="#7a5fd0"/>
<circle cx="210.11" cy="434.15" r="12.65" fill="#fffaf2"/>
<g transform="translate(210.11,434.15) rotate(46.98) scale(11.4)" clip-path="url(#fc)"><rect x="-1.05" y="-1.05" width="2.1" height="2.1" fill="#e8141e"/><circle cx="-0.15" cy="0" r="0.5" fill="#ffffff"/><circle cx="-0.02" cy="0" r="0.4" fill="#e8141e"/><polygon points="0.24,-0.19 0.32,-0.07 0.46,-0.12 0.38,0 0.46,0.12 0.32,0.07 0.24,0.19 0.24,0.04 0.1,0 0.24,-0.04" fill="#ffffff"/></g>
<circle cx="241.97" cy="407.15" r="15.1" fill="#5a4a3a" opacity="0.22" filter="url(#fsh)"/>
<circle cx="241.97" cy="406.55" r="14.5" fill="#7a5fd0"/>
<circle cx="241.97" cy="406.55" r="12.65" fill="#fffaf2"/>
<g transform="translate(241.97,406.55) rotate(51.21) scale(11.4)" clip-path="url(#fc)"><rect x="-1.05" y="-1.05" width="2.1" height="2.1" fill="#1aa032"/><rect x="-0.6" y="-0.4" width="1.2" height="0.5" fill="#ffffff" rx="0.1" opacity="0.92"/><rect x="-0.45" y="-0.3" width="0.1" height="0.3" fill="#1aa032"/><rect x="-0.2" y="-0.32" width="0.1" height="0.32" fill="#1aa032"/><rect x="0.05" y="-0.3" width="0.1" height="0.3" fill="#1aa032"/><rect x="0.3" y="-0.32" width="0.1" height="0.32" fill="#1aa032"/><rect x="-0.55" y="0.3" width="1.1" height="0.09" fill="#ffffff"/></g>
<circle cx="268.21" cy="394.67" r="9.1" fill="#5a4a3a" opacity="0.22" filter="url(#fsh)"/>
<circle cx="268.21" cy="394.07" r="8.5" fill="#7a5fd0"/>
<circle cx="268.21" cy="394.07" r="6.65" fill="#fffaf2"/>
<g transform="translate(268.21,394.07) rotate(54.08) scale(5.4)" clip-path="url(#fc)"><rect x="-1.05" y="-1.05" width="2.1" height="2.1" fill="#ffffff"/><rect x="-1.05" y="-0.72" width="2.1" height="0.22" fill="#1a48b8"/><rect x="-1.05" y="0.5" width="2.1" height="0.22" fill="#1a48b8"/><polygon points="0,-0.34 0.3,0.17 -0.3,0.17" fill="none" stroke="#1a48b8" stroke-width="0.09"/><polygon points="0,0.34 0.3,-0.17 -0.3,-0.17" fill="none" stroke="#1a48b8" stroke-width="0.09"/></g>
<circle cx="283.14" cy="384.21" r="9.1" fill="#5a4a3a" opacity="0.22" filter="url(#fsh)"/>
<circle cx="283.14" cy="383.61" r="8.5" fill="#7a5fd0"/>
<circle cx="283.14" cy="383.61" r="6.65" fill="#fffaf2"/>
<g transform="translate(283.14,383.61) rotate(55.92) scale(5.4)" clip-path="url(#fc)"><rect x="-1.05" y="-1" width="2.1" height="0.68" fill="#0a9a3a"/><rect x="-1.05" y="-0.34" width="2.1" height="0.68" fill="#ffffff"/><rect x="-1.05" y="0.33" width="2.1" height="0.68" fill="#111111"/><rect x="-1.05" y="-1.05" width="0.6" height="2.1" fill="#e8141e"/></g>
<circle cx="294.88" cy="376.48" r="9.1" fill="#5a4a3a" opacity="0.22" filter="url(#fsh)"/>
<circle cx="294.88" cy="375.88" r="8.5" fill="#7a5fd0"/>
<circle cx="294.88" cy="375.88" r="6.65" fill="#fffaf2"/>
<g transform="translate(294.88,375.88) rotate(57.35) scale(5.4)" clip-path="url(#fc)"><rect x="-1.05" y="-1" width="2.1" height="0.68" fill="#1a9a3a"/><rect x="-1.05" y="-0.34" width="2.1" height="0.68" fill="#ffffff"/><rect x="-1.05" y="0.33" width="2.1" height="0.68" fill="#e0242a"/><circle cx="0" cy="0" r="0.16" fill="#e0242a"/></g>
<circle cx="348.47" cy="338.87" r="15.6" fill="#5a4a3a" opacity="0.22" filter="url(#fsh)"/>
<circle cx="348.47" cy="338.27" r="15" fill="#d9a430"/>
<circle cx="348.47" cy="338.27" r="13.15" fill="#fffaf2"/>
<g transform="translate(348.47,338.27) rotate(63.91) scale(11.9)" clip-path="url(#fc)"><rect x="-1.05" y="-1.05" width="2.1" height="2.1" fill="#1a9a3a"/><polygon points="-0.88,0 0,-0.62 0.88,0 0,0.62" fill="#fedf00"/><circle cx="0" cy="0" r="0.38" fill="#1a3a9c"/><path d="M-0.36,-0.08Q0,-0.2 0.37,0.1" fill="none" stroke="#fff" stroke-width="0.08"/></g>
<circle cx="390.47" cy="327.35" r="9.1" fill="#5a4a3a" opacity="0.22" filter="url(#fsh)"/>
<circle cx="390.47" cy="326.75" r="8.5" fill="#d9a430"/>
<circle cx="390.47" cy="326.75" r="6.65" fill="#fffaf2"/>
<g transform="translate(390.47,326.75) rotate(68.25) scale(5.4)" clip-path="url(#fc)"><rect x="-1.05" y="-1" width="2.1" height="0.68" fill="#6cb4ee"/><rect x="-1.05" y="-0.34" width="2.1" height="0.68" fill="#ffffff"/><rect x="-1.05" y="0.33" width="2.1" height="0.68" fill="#6cb4ee"/><circle cx="0" cy="0" r="0.17" fill="#f5b82e"/></g>
<circle cx="405.7" cy="321.53" r="9.1" fill="#5a4a3a" opacity="0.22" filter="url(#fsh)"/>
<circle cx="405.7" cy="320.93" r="8.5" fill="#d9a430"/>
<circle cx="405.7" cy="320.93" r="6.65" fill="#fffaf2"/>
<g transform="translate(405.7,320.93) rotate(69.9) scale(5.4)" clip-path="url(#fc)"><rect x="-1.05" y="-1" width="2.1" height="1.01" fill="#fcd116"/><rect x="-1.05" y="-0.01" width="2.1" height="0.51" fill="#1a3a9c"/><rect x="-1.05" y="0.49" width="2.1" height="0.51" fill="#d8202a"/></g>
<circle cx="416.93" cy="317.55" r="9.1" fill="#5a4a3a" opacity="0.22" filter="url(#fsh)"/>
<circle cx="416.93" cy="316.95" r="8.5" fill="#d9a430"/>
<circle cx="416.93" cy="316.95" r="6.65" fill="#fffaf2"/>
<g transform="translate(416.93,316.95) rotate(71.11) scale(5.4)" clip-path="url(#fc)"><rect x="-1.05" y="-1" width="2.1" height="1.01" fill="#ffffff"/><rect x="-1.05" y="-0.01" width="2.1" height="1.01" fill="#d8202a"/><rect x="-1.05" y="-1.05" width="0.95" height="1.05" fill="#1a3a9c"/><polygon points="-0.55,-0.74 -0.5,-0.57 -0.32,-0.57 -0.46,-0.47 -0.41,-0.31 -0.55,-0.41 -0.69,-0.31 -0.64,-0.47 -0.78,-0.57 -0.6,-0.57" fill="#ffffff"/></g>
<circle cx="426.38" cy="314.41" r="9.1" fill="#5a4a3a" opacity="0.22" filter="url(#fsh)"/>
<circle cx="426.38" cy="313.81" r="8.5" fill="#d9a430"/>
<circle cx="426.38" cy="313.81" r="6.65" fill="#fffaf2"/>
<g transform="translate(426.38,313.81) rotate(72.12) scale(5.4)" clip-path="url(#fc)"><rect x="-1" y="-1.05" width="0.68" height="2.1" fill="#d8141e"/><rect x="-0.34" y="-1.05" width="0.68" height="2.1" fill="#ffffff"/><rect x="0.33" y="-1.05" width="0.68" height="2.1" fill="#d8141e"/></g>
<circle cx="484.69" cy="298.98" r="9.1" fill="#5a4a3a" opacity="0.22" filter="url(#fsh)"/>
<circle cx="484.69" cy="298.38" r="8.5" fill="#12a870"/>
<circle cx="484.69" cy="298.38" r="6.65" fill="#fffaf2"/>
<g transform="translate(484.69,298.38) rotate(78.23) scale(5.4)" clip-path="url(#fc)"><rect x="-1.05" y="-1.05" width="2.1" height="2.1" fill="#c8202a"/><polygon points="0,-0.37 0.09,-0.09 0.38,-0.09 0.15,0.08 0.24,0.35 0,0.18 -0.24,0.35 -0.15,0.08 -0.38,-0.09 -0.09,-0.09" fill="#0a6a3a"/></g>
<circle cx="478.02" cy="300.41" r="9.1" fill="#5a4a3a" opacity="0.22" filter="url(#fsh)"/>
<circle cx="478.02" cy="299.81" r="8.5" fill="#12a870"/>
<circle cx="478.02" cy="299.81" r="6.65" fill="#fffaf2"/>
<g transform="translate(478.02,299.81) rotate(77.54) scale(5.4)" clip-path="url(#fc)"><rect x="-1" y="-1.05" width="1.01" height="2.1" fill="#0a7a3a"/><rect x="-0.01" y="-1.05" width="1.01" height="2.1" fill="#ffffff"/><circle cx="0.02" cy="0" r="0.4" fill="#d8141e"/><circle cx="0.14" cy="0" r="0.32" fill="#7ab89a"/><polygon points="0.22,-0.16 0.26,-0.05 0.37,-0.05 0.28,0.02 0.31,0.13 0.22,0.06 0.13,0.13 0.16,0.02 0.07,-0.05 0.18,-0.05" fill="#d8141e"/></g>
<circle cx="469.47" cy="302.37" r="9.1" fill="#5a4a3a" opacity="0.22" filter="url(#fsh)"/>
<circle cx="469.47" cy="301.77" r="8.5" fill="#12a870"/>
<circle cx="469.47" cy="301.77" r="6.65" fill="#fffaf2"/>
<g transform="translate(469.47,301.77) rotate(76.65) scale(5.4)" clip-path="url(#fc)"><rect x="-1" y="-1.05" width="0.68" height="2.1" fill="#0a8a4a"/><rect x="-0.34" y="-1.05" width="0.68" height="2.1" fill="#ffffff"/><rect x="0.33" y="-1.05" width="0.68" height="2.1" fill="#0a8a4a"/></g>
<circle cx="459.37" cy="304.87" r="9.1" fill="#5a4a3a" opacity="0.22" filter="url(#fsh)"/>
<circle cx="459.37" cy="304.27" r="8.5" fill="#12a870"/>
<circle cx="459.37" cy="304.27" r="6.65" fill="#fffaf2"/>
<g transform="translate(459.37,304.27) rotate(75.6) scale(5.4)" clip-path="url(#fc)"><rect x="-1.05" y="-1" width="2.1" height="0.68" fill="#d8141e"/><rect x="-1.05" y="-0.34" width="2.1" height="0.68" fill="#ffffff"/><rect x="-1.05" y="0.33" width="2.1" height="0.68" fill="#111111"/><circle cx="0" cy="0" r="0.14" fill="#c09a2a"/></g>
<circle cx="447.81" cy="307.96" r="9.1" fill="#5a4a3a" opacity="0.22" filter="url(#fsh)"/>
<circle cx="447.81" cy="307.36" r="8.5" fill="#12a870"/>
<circle cx="447.81" cy="307.36" r="6.65" fill="#fffaf2"/>
<g transform="translate(447.81,307.36) rotate(74.39) scale(5.4)" clip-path="url(#fc)"><rect x="-1.05" y="-1" width="2.1" height="1.01" fill="#e03c31"/><rect x="-1.05" y="-0.01" width="2.1" height="1.01" fill="#001489"/><path d="M-1.1,-1.1L-0.2,0L-1.1,1.1M-0.2,0L1.1,0" fill="none" stroke="#fff" stroke-width="0.72"/><path d="M-1.1,-1.1L-0.2,0L-1.1,1.1M-0.2,0L1.1,0" fill="none" stroke="#1a9a3a" stroke-width="0.44"/><polygon points="-1.1,-0.62 -0.58,0 -1.1,0.62" fill="#ffb81c"/><polygon points="-1.1,-0.42 -0.72,0 -1.1,0.42" fill="#111"/></g>
<circle cx="562.27" cy="282.35" r="15.1" fill="#5a4a3a" opacity="0.22" filter="url(#fsh)"/>
<circle cx="562.27" cy="281.75" r="14.5" fill="#2f8fd0"/>
<circle cx="562.27" cy="281.75" r="12.65" fill="#fffaf2"/>
<g transform="translate(562.27,281.75) rotate(86.21) scale(11.4)" clip-path="url(#fc)"><rect x="-1.05" y="-1.05" width="2.1" height="2.1" fill="#1a2a8c"/><rect x="-1.3" y="-1" width="1.3" height="0.9" fill="#012169"/><path d="M-1.3,-1L0,-0.1M0,-1L-1.3,-0.1" stroke="#fff" stroke-width="0.18"/><path d="M-1.3,-1L0,-0.1M0,-1L-1.3,-0.1" stroke="#c8102e" stroke-width="0.07"/><rect x="-0.8" y="-1" width="0.31" height="0.9" fill="#fff"/><rect x="-1.3" y="-0.7" width="1.3" height="0.31" fill="#fff"/><rect x="-0.74" y="-1" width="0.18" height="0.9" fill="#c8102e"/><rect x="-1.3" y="-0.64" width="1.3" height="0.18" fill="#c8102e"/><polygon points="-0.5,0.28 -0.45,0.4 -0.33,0.36 -0.39,0.48 -0.29,0.55 -0.41,0.57 -0.4,0.7 -0.5,0.61 -0.6,0.7 -0.59,0.57 -0.71,0.55 -0.61,0.48 -0.67,0.36 -0.55,0.4" fill="#ffffff"/><polygon points="0.5,-0.55 0.52,-0.5 0.58,-0.51 0.55,-0.46 0.6,-0.43 0.54,-0.42 0.54,-0.36 0.5,-0.4 0.46,-0.36 0.46,-0.42 0.4,-0.43 0.45,-0.46 0.42,-0.51 0.48,-0.5" fill="#ffffff"/><polygon points="0.72,-0.1 0.74,-0.05 0.8,-0.06 0.77,-0.01 0.82,0.02 0.76,0.03 0.76,0.09 0.72,0.05 0.68,0.09 0.68,0.03 0.62,0.02 0.67,-0.01 0.64,-0.06 0.7,-0.05" fill="#ffffff"/><polygon points="0.4,0.45 0.42,0.5 0.48,0.49 0.45,0.54 0.5,0.57 0.44,0.58 0.44,0.64 0.4,0.6 0.36,0.64 0.36,0.58 0.3,0.57 0.35,0.54 0.32,0.49 0.38,0.5" fill="#ffffff"/><polygon points="0.2,-0.05 0.22,0 0.28,-0.01 0.25,0.04 0.3,0.07 0.24,0.08 0.24,0.14 0.2,0.1 0.16,0.14 0.16,0.08 0.1,0.07 0.15,0.04 0.12,-0.01 0.18,0" fill="#ffffff"/></g>
<circle cx="594.52" cy="287.13" r="9.1" fill="#5a4a3a" opacity="0.22" filter="url(#fsh)"/>
<circle cx="594.52" cy="286.53" r="8.5" fill="#2f8fd0"/>
<circle cx="594.52" cy="286.53" r="6.65" fill="#fffaf2"/>
<g transform="translate(594.52,286.53) rotate(89.44) scale(5.4)" clip-path="url(#fc)"><rect x="-1.05" y="-1.05" width="2.1" height="2.1" fill="#1a2a8c"/><rect x="-1.3" y="-1" width="1.3" height="0.9" fill="#012169"/><path d="M-1.3,-1L0,-0.1M0,-1L-1.3,-0.1" stroke="#fff" stroke-width="0.18"/><path d="M-1.3,-1L0,-0.1M0,-1L-1.3,-0.1" stroke="#c8102e" stroke-width="0.07"/><rect x="-0.8" y="-1" width="0.31" height="0.9" fill="#fff"/><rect x="-1.3" y="-0.7" width="1.3" height="0.31" fill="#fff"/><rect x="-0.74" y="-1" width="0.18" height="0.9" fill="#c8102e"/><rect x="-1.3" y="-0.64" width="1.3" height="0.18" fill="#c8102e"/><polygon points="0.45,-0.66 0.49,-0.55 0.6,-0.55 0.51,-0.48 0.54,-0.37 0.45,-0.44 0.36,-0.37 0.39,-0.48 0.3,-0.55 0.41,-0.55" fill="#ffffff"/><polygon points="0.45,-0.6 0.47,-0.53 0.55,-0.53 0.49,-0.49 0.51,-0.42 0.45,-0.46 0.39,-0.42 0.41,-0.49 0.35,-0.53 0.43,-0.53" fill="#d8202a"/><polygon points="0.7,-0.21 0.74,-0.1 0.85,-0.1 0.76,-0.03 0.79,0.08 0.7,0.01 0.61,0.08 0.64,-0.03 0.55,-0.1 0.66,-0.1" fill="#ffffff"/><polygon points="0.7,-0.15 0.72,-0.08 0.8,-0.08 0.74,-0.04 0.76,0.03 0.7,-0.01 0.64,0.03 0.66,-0.04 0.6,-0.08 0.68,-0.08" fill="#d8202a"/><polygon points="0.25,-0.11 0.29,0 0.4,0 0.31,0.07 0.34,0.18 0.25,0.11 0.16,0.18 0.19,0.07 0.1,0 0.21,0" fill="#ffffff"/><polygon points="0.25,-0.05 0.27,0.02 0.35,0.02 0.29,0.06 0.31,0.13 0.25,0.09 0.19,0.13 0.21,0.06 0.15,0.02 0.23,0.02" fill="#d8202a"/><polygon points="0.45,0.39 0.49,0.5 0.6,0.5 0.51,0.57 0.54,0.68 0.45,0.61 0.36,0.68 0.39,0.57 0.3,0.5 0.41,0.5" fill="#ffffff"/><polygon points="0.45,0.45 0.47,0.52 0.55,0.52 0.49,0.56 0.51,0.63 0.45,0.59 0.39,0.63 0.41,0.56 0.35,0.52 0.43,0.52" fill="#d8202a"/></g>
<g fill="#4a433d"><circle cx="40.5" cy="1469.5" r="13.6"/><circle cx="64" cy="1469.5" r="13.6"/><path d="M29,1462 C30,1452 36,1446.5 42,1447.5 C47,1448.3 50,1451 52.2,1454.5 C54.5,1451 57.5,1448.3 62.5,1447.5 C68.5,1446.5 74.5,1452 75.5,1462 Z"/></g>
<circle cx="40.5" cy="1470" r="10.6" fill="#f6f2ea"/><circle cx="64" cy="1470" r="10.6" fill="#f6f2ea"/>
<path d="M46.5,1456.5 L52.2,1462.5 L58,1456.5 L58,1476 L46.5,1476 Z" fill="#4a433d"/>
<g fill="#4a433d"><ellipse cx="53" cy="1472.5" rx="12.5" ry="8.6"/><path d="M60,1466.5 l4.2,-3 l0.8,5.2 z"/><rect x="63" y="1470.5" width="4.6" height="5.4" rx="1.6"/><rect x="44.5" y="1477" width="4.2" height="6.6" rx="1"/><rect x="56.5" y="1477" width="4.2" height="6.6" rx="1"/><path d="M40.8,1471 q-3.6,-1 -3,-4.4" fill="none" stroke="#4a433d" stroke-width="1.3"/></g>
<path d="M49,1465.6 q4,-1.8 8,0" fill="none" stroke="#f6f2ea" stroke-width="1.3" stroke-linecap="round"/>
<text x="92.5" y="1474.4" font-family='"Liberation Sans", Arial, Helvetica, sans-serif' font-weight="700" font-size="22.3" letter-spacing="1.6" fill="#4a433d" stroke="#4a433d" stroke-width="0.5" textLength="274" lengthAdjust="spacingAndGlyphs">VISUAL CAPITALIST</text>
<text x="415" y="1457.5" font-family='"Liberation Sans", Arial, Helvetica, sans-serif' font-size="14" fill="#4f4d4a" textLength="760" lengthAdjust="spacingAndGlyphs">Pakistan figures as of 2025. Overseas territories shown separately. North America includes the Caribbean and Central America.</text>
<text x="410" y="1475" font-family='"Liberation Sans", Arial, Helvetica, sans-serif' font-size="14" fill="#4f4d4a" textLength="762" lengthAdjust="spacingAndGlyphs">Data unavailable for Afghanistan, Bolivia, Eritrea, Lebanon, Palestine, Sri Lanka, and Syria. Source: International Monetary Fund</text>
<rect x="0" y="1500" width="1200" height="65" fill="#02a77a"/>
<defs><clipPath id="vclip"><path d="M52,1512.3 H79.5 Q87,1512.3 84,1519 L69.5,1541 Q65.5,1546.5 61.5,1541 L47,1519 Q44,1512.3 52,1512.3 Z"/></clipPath></defs>
<g clip-path="url(#vclip)"><rect x="44" y="1510" width="44" height="38" fill="#7ed957"/><polygon points="44,1510 66,1510 60,1521 44,1524" fill="#f5c518"/><polygon points="66,1510 88,1510 88,1520 72,1526 60,1521" fill="#9be03a"/><polygon points="44,1524 60,1521 64,1532 54,1540 44,1534" fill="#3aa0dc"/><polygon points="60,1521 72,1526 88,1520 80,1534 64,1532" fill="#22b86a"/><polygon points="64,1532 80,1534 70,1548 58,1548 54,1540" fill="#0f8f6a"/><polygon points="54,1540 64,1532 62,1548 50,1548" fill="#bfe9f5"/></g>
<path d="M52,1512.3 H79.5 Q87,1512.3 84,1519 L69.5,1541 Q65.5,1546.5 61.5,1541 L47,1519 Q44,1512.3 52,1512.3 Z" fill="none" stroke="#e9fff6" stroke-width="2.2" stroke-linejoin="round"/>
<text x="87.5" y="1537.6" font-family='"Liberation Sans", Arial, Helvetica, sans-serif' font-weight="700" font-size="37" fill="#fff" textLength="123.5" lengthAdjust="spacingAndGlyphs">voronoi</text>
<text x="99.3" y="1552.6" font-family='"Liberation Sans", Arial, Helvetica, sans-serif' font-weight="700" font-size="7.6" fill="#fff" textLength="111" lengthAdjust="spacing">BY VISUAL CAPITALIST</text>
<rect x="234.6" y="1515" width="1" height="34.5" fill="#6fd0ad"/>
<text x="256" y="1538.4" font-family='"Liberation Sans", Arial, Helvetica, sans-serif' font-weight="700" font-size="18.4" fill="#eafff6" textLength="240" lengthAdjust="spacingAndGlyphs">Where Data Tells the Story</text>
<rect x="911.5" y="1512.3" width="118.6" height="39.6" rx="5.5" fill="#14122b"/>
<rect x="1048" y="1512.3" width="118.6" height="39.6" rx="5.5" fill="#14122b"/>
<g fill="#fff"><path d="M930,1525.2 c-2.6,-1.2 -5.2,-0.6 -6.8,1.3 c-2.2,2.6 -1.7,7.6 0.5,11.6 c1.3,2.4 3.2,4.6 5.2,4.5 c1.7,-0.1 2.1,-1 4,-1 c1.9,0 2.3,1 4,1 c2,0 3.4,-2 4.6,-4 c0.6,-1 1,-2 1.3,-3 c-2.8,-1.2 -3.9,-5.2 -1,-7.6 c-1.2,-1.8 -3.2,-3 -5.2,-3 c-2.2,0 -3,1 -4.4,1 c-0.8,0 -1.4,-0.3 -2.2,-0.8 z"/><path d="M931,1524.6 c-0.2,-2.6 1.6,-5 4.6,-5.4 c0.4,2.8 -1.8,5.2 -4.6,5.4 z"/></g>
<text x="946" y="1527" font-family='"Liberation Sans", Arial, Helvetica, sans-serif' font-weight="700" font-size="8.4" fill="#fff" textLength="70" lengthAdjust="spacingAndGlyphs">Download on the</text>
<text x="945.5" y="1543" font-family='"Liberation Sans", Arial, Helvetica, sans-serif' font-weight="700" font-size="17.6" fill="#fff" textLength="75" lengthAdjust="spacingAndGlyphs">App Store</text>
<g><polygon points="1056.5,1521 1066,1532.4 1056.5,1543.8" fill="#35c6f4"/><polygon points="1056.5,1521 1070.6,1528 1066,1532.4" fill="#3ddc84"/><polygon points="1056.5,1543.8 1070.6,1536.8 1066,1532.4" fill="#f4475a"/><polygon points="1070.6,1528 1077.5,1532.4 1070.6,1536.8 1066,1532.4" fill="#fbbc12"/></g>
<text x="1084" y="1526.6" font-family='"Liberation Sans", Arial, Helvetica, sans-serif' font-weight="700" font-size="7.8" fill="#fff" textLength="35" lengthAdjust="spacingAndGlyphs">GET IT ON</text>
<text x="1083.5" y="1542.5" font-family='"Liberation Sans", Arial, Helvetica, sans-serif' font-weight="700" font-size="16.6" fill="#fff" textLength="75.5" lengthAdjust="spacingAndGlyphs">Google Play</text>
</svg>
</body>
</html>
